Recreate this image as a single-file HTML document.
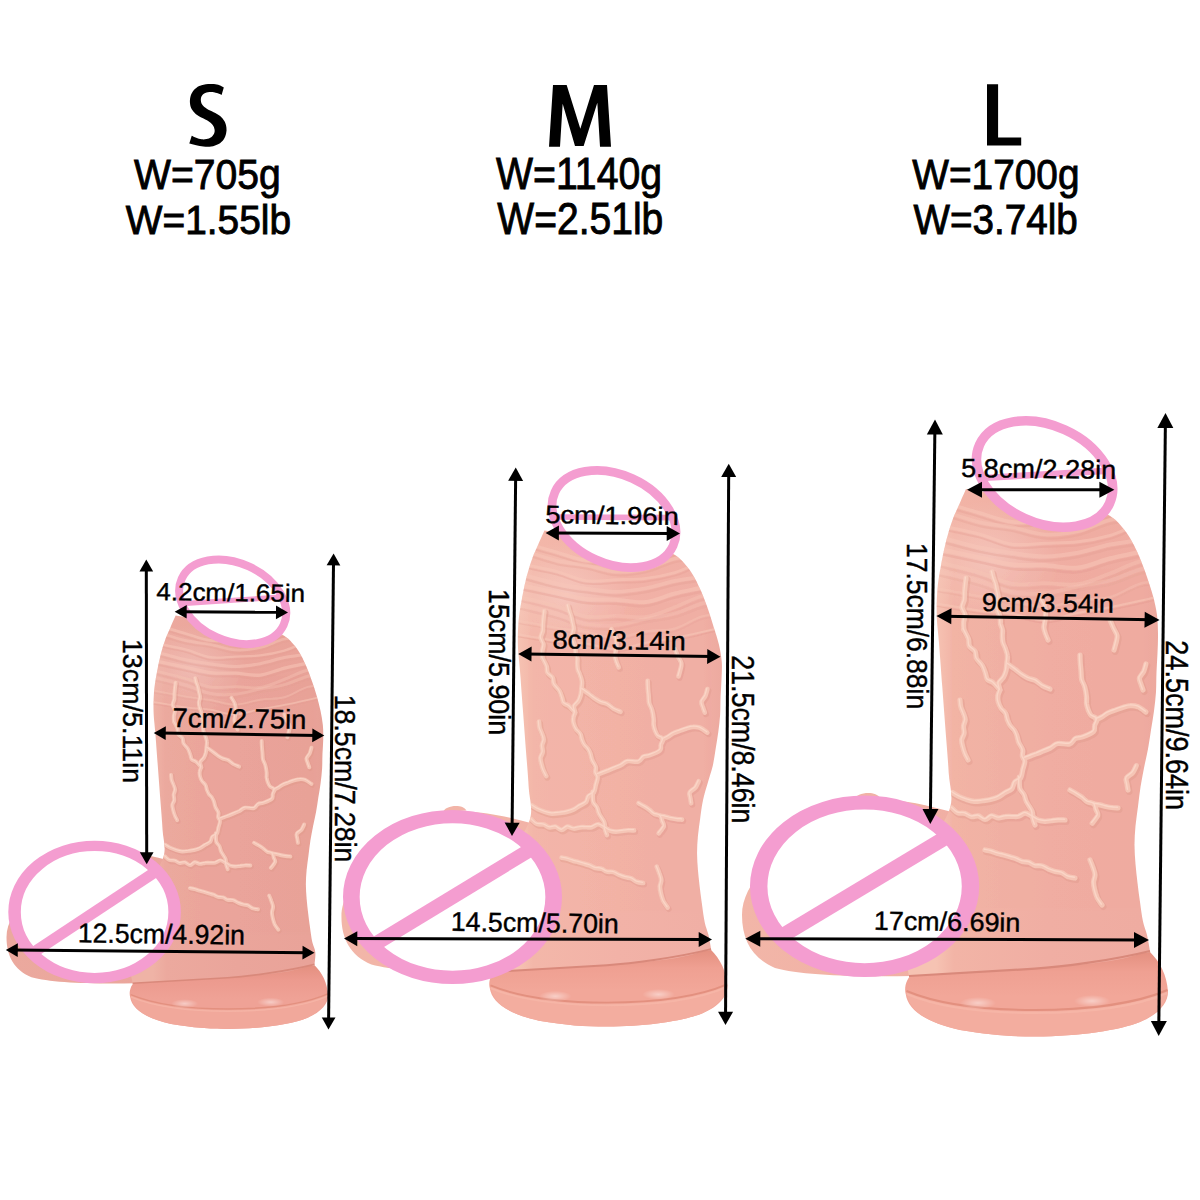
<!DOCTYPE html>
<html><head><meta charset="utf-8"><title>Size chart</title>
<style>
html,body{margin:0;padding:0;background:#fff;}
body{width:1200px;height:1200px;overflow:hidden;}
svg{display:block;}
text{font-family:"Liberation Sans", sans-serif;}
</style></head>
<body>
<svg width="1200" height="1200" viewBox="0 0 1200 1200">
<defs>
<linearGradient id="pSb" x1="936" y1="0" x2="1160" y2="0" gradientUnits="userSpaceOnUse">
  <stop offset="0" stop-color="#efb3a6"/>
  <stop offset="0.08" stop-color="#eca99e"/>
  <stop offset="0.5" stop-color="#eaa59b"/>
  <stop offset="0.92" stop-color="#e9a399"/>
  <stop offset="1" stop-color="#e7a197"/>
</linearGradient>
<radialGradient id="pSsp"><stop offset="0" stop-color="#fff" stop-opacity="0.45"/><stop offset="1" stop-color="#fff" stop-opacity="0"/></radialGradient>
<radialGradient id="pShl"><stop offset="0" stop-color="#fff" stop-opacity="0.22"/><stop offset="1" stop-color="#fff" stop-opacity="0"/></radialGradient>
<linearGradient id="pSk" x1="740" y1="0" x2="980" y2="0" gradientUnits="userSpaceOnUse">
  <stop offset="0" stop-color="#eba99e"/>
  <stop offset="1" stop-color="#eaa59b"/>
</linearGradient>
<linearGradient id="pSs" x1="0" y1="950" x2="0" y2="1012" gradientUnits="userSpaceOnUse">
  <stop offset="0" stop-color="#e38e7e"/>
  <stop offset="0.35" stop-color="#ec9a8e"/>
  <stop offset="0.75" stop-color="#efa296"/>
  <stop offset="1" stop-color="#efa296"/>
</linearGradient>
<linearGradient id="pMb" x1="936" y1="0" x2="1160" y2="0" gradientUnits="userSpaceOnUse">
  <stop offset="0" stop-color="#f6c3b3"/>
  <stop offset="0.08" stop-color="#f3b7a9"/>
  <stop offset="0.5" stop-color="#f2b2a7"/>
  <stop offset="0.92" stop-color="#f0afa5"/>
  <stop offset="1" stop-color="#edaaa0"/>
</linearGradient>
<radialGradient id="pMsp"><stop offset="0" stop-color="#fff" stop-opacity="0.45"/><stop offset="1" stop-color="#fff" stop-opacity="0"/></radialGradient>
<radialGradient id="pMhl"><stop offset="0" stop-color="#fff" stop-opacity="0.22"/><stop offset="1" stop-color="#fff" stop-opacity="0"/></radialGradient>
<linearGradient id="pMk" x1="740" y1="0" x2="980" y2="0" gradientUnits="userSpaceOnUse">
  <stop offset="0" stop-color="#f2b6a8"/>
  <stop offset="1" stop-color="#f2b2a7"/>
</linearGradient>
<linearGradient id="pMs" x1="0" y1="950" x2="0" y2="1012" gradientUnits="userSpaceOnUse">
  <stop offset="0" stop-color="#e38e7e"/>
  <stop offset="0.35" stop-color="#efa092"/>
  <stop offset="0.75" stop-color="#f2a799"/>
  <stop offset="1" stop-color="#f2a799"/>
</linearGradient>
<linearGradient id="pLb" x1="936" y1="0" x2="1160" y2="0" gradientUnits="userSpaceOnUse">
  <stop offset="0" stop-color="#f6c3b3"/>
  <stop offset="0.08" stop-color="#f2b4a6"/>
  <stop offset="0.5" stop-color="#f0aea3"/>
  <stop offset="0.92" stop-color="#efaca1"/>
  <stop offset="1" stop-color="#eca89d"/>
</linearGradient>
<radialGradient id="pLsp"><stop offset="0" stop-color="#fff" stop-opacity="0.45"/><stop offset="1" stop-color="#fff" stop-opacity="0"/></radialGradient>
<radialGradient id="pLhl"><stop offset="0" stop-color="#fff" stop-opacity="0.22"/><stop offset="1" stop-color="#fff" stop-opacity="0"/></radialGradient>
<linearGradient id="pLk" x1="740" y1="0" x2="980" y2="0" gradientUnits="userSpaceOnUse">
  <stop offset="0" stop-color="#f2b6a8"/>
  <stop offset="1" stop-color="#f0aea3"/>
</linearGradient>
<linearGradient id="pLs" x1="0" y1="950" x2="0" y2="1012" gradientUnits="userSpaceOnUse">
  <stop offset="0" stop-color="#e38e7e"/>
  <stop offset="0.35" stop-color="#efa092"/>
  <stop offset="0.75" stop-color="#f2a799"/>
  <stop offset="1" stop-color="#f2a799"/>
</linearGradient><g id="pS">
<path d="M914 972 C906 978 904 988 905.7 994 C908 1010 925 1022 960 1030 C990 1035 1010 1036.5 1035 1036.5 C1080 1036.5 1120 1030 1140 1022 C1160 1014 1168 1002 1168 992 C1167 975 1160 962 1150 952 Z" fill="url(#pSs)"/>
<path d="M906.5 991 C940 1005 990 1010 1035 1010 C1085 1010 1135 1004 1167.5 990 C1168 998 1162 1012 1140 1022 C1120 1030 1080 1036.5 1035 1036.5 C1010 1036.5 990 1035 960 1030 C925 1022 908 1010 906.5 991 Z" fill="#f1a89b"/>
<path d="M906.5 991 C940 1005 990 1010 1035 1010 C1085 1010 1135 1004 1167.5 990" fill="none" stroke="#e3907f" stroke-width="2"/>
<path d="M906.5 991 C940 1005 990 1010 1035 1010 C1085 1010 1135 1004 1167.5 990" fill="none" stroke="#f6b8a9" stroke-width="2" transform="translate(0,3)" opacity="0.7"/>
<ellipse cx="978" cy="1003" rx="18" ry="6" fill="url(#pSsp)"/>
<ellipse cx="1092" cy="1001" rx="18" ry="6" fill="url(#pSsp)"/>
<path d="M775 860 C755 875 742 895 742 915 C742 940 752 958 775 968 C800 975 850 977 912 976 L960 900 L952 812 C925 805 895 797 862 800 C830 805 795 830 775 860 Z M854 800 C856 792 876 790 880 798 Z" fill="url(#pSk)"/>
<path d="M966 489 L1100 510 C1102.2 511.3 1109.3 515.2 1113.0 518.0 C1116.7 520.8 1119.2 523.7 1122.0 527.0 C1124.8 530.3 1127.2 533.2 1130.0 538.0 C1132.8 542.8 1136.2 549.5 1139.0 556.0 C1141.8 562.5 1144.7 570.3 1147.0 577.0 C1149.3 583.7 1151.2 589.7 1153.0 596.0 C1154.8 602.3 1156.5 608.7 1157.9 615.0 C1159.2 621.3 1160.4 627.7 1161.0 634.0 C1161.6 640.3 1161.6 646.7 1161.5 653.0 C1161.4 659.3 1160.8 665.5 1160.5 672.0 C1160.2 678.5 1160.4 685.5 1160.0 692.0 C1159.6 698.5 1158.8 704.7 1158.0 711.0 C1157.2 717.3 1156.0 723.7 1155.0 730.0 C1154.0 736.3 1153.2 742.7 1152.0 749.0 C1150.8 755.3 1149.2 761.7 1148.0 768.0 C1146.8 774.3 1145.5 780.6 1144.5 787.0 C1143.5 793.4 1142.8 800.0 1142.0 806.5 C1141.2 813.0 1140.1 819.6 1139.5 826.0 C1138.9 832.4 1138.5 838.7 1138.5 845.0 C1138.5 851.3 1139.0 857.7 1139.5 864.0 C1140.0 870.3 1140.8 876.7 1141.5 883.0 C1142.2 889.3 1143.1 895.6 1144.0 902.0 C1144.9 908.4 1145.8 916.0 1147.0 921.5 C1148.2 927.0 1150.5 930.1 1151.0 935.0 C1151.5 939.9 1150.2 948.3 1150.0 951.0 C1143.3 952.7 1129.2 958.0 1110.0 961.0 C1090.8 964.0 1060.0 966.7 1035.0 968.7 C1010.0 970.7 981.0 971.8 960.0 973.0 C939.0 974.2 917.5 975.5 909.0 976.0 C908.3 970.8 904.5 956.8 905.0 945.0 C905.5 933.2 908.2 920.8 912.0 905.0 C915.8 889.2 921.7 866.2 928.0 850.0 C934.3 833.8 946.5 820.8 950.0 808.0 C953.5 795.2 949.5 786.0 948.7 773.0 C948.0 760.0 946.6 744.3 945.5 730.0 C944.4 715.7 943.4 701.5 942.3 687.0 C941.2 672.5 939.9 654.7 939.0 643.0 C938.1 631.3 937.1 625.7 936.8 617.0 C936.5 608.3 936.7 599.2 937.3 591.0 C937.9 582.8 939.1 575.8 940.6 567.5 C942.1 559.2 944.0 549.4 946.0 541.5 C948.0 533.6 950.3 526.1 952.5 520.0 C954.7 513.9 956.8 510.2 959.0 505.0 C961.2 499.8 964.8 491.7 966.0 489.0 Z" fill="url(#pSb)"/>
<path d="M909 976 C945 974 990 971.5 1035 968.7 C1060 967 1110 961 1150 951" fill="none" stroke="#d9897b" stroke-width="2.2"/>
<clipPath id="pSclip"><path d="M966 489 L1100 510 C1102.2 511.3 1109.3 515.2 1113.0 518.0 C1116.7 520.8 1119.2 523.7 1122.0 527.0 C1124.8 530.3 1127.2 533.2 1130.0 538.0 C1132.8 542.8 1136.2 549.5 1139.0 556.0 C1141.8 562.5 1144.7 570.3 1147.0 577.0 C1149.3 583.7 1151.2 589.7 1153.0 596.0 C1154.8 602.3 1156.5 608.7 1157.9 615.0 C1159.2 621.3 1160.4 627.7 1161.0 634.0 C1161.6 640.3 1161.6 646.7 1161.5 653.0 C1161.4 659.3 1160.8 665.5 1160.5 672.0 C1160.2 678.5 1160.4 685.5 1160.0 692.0 C1159.6 698.5 1158.8 704.7 1158.0 711.0 C1157.2 717.3 1156.0 723.7 1155.0 730.0 C1154.0 736.3 1153.2 742.7 1152.0 749.0 C1150.8 755.3 1149.2 761.7 1148.0 768.0 C1146.8 774.3 1145.5 780.6 1144.5 787.0 C1143.5 793.4 1142.8 800.0 1142.0 806.5 C1141.2 813.0 1140.1 819.6 1139.5 826.0 C1138.9 832.4 1138.5 838.7 1138.5 845.0 C1138.5 851.3 1139.0 857.7 1139.5 864.0 C1140.0 870.3 1140.8 876.7 1141.5 883.0 C1142.2 889.3 1143.1 895.6 1144.0 902.0 C1144.9 908.4 1145.8 916.0 1147.0 921.5 C1148.2 927.0 1150.5 930.1 1151.0 935.0 C1151.5 939.9 1150.2 948.3 1150.0 951.0 C1143.3 952.7 1129.2 958.0 1110.0 961.0 C1090.8 964.0 1060.0 966.7 1035.0 968.7 C1010.0 970.7 981.0 971.8 960.0 973.0 C939.0 974.2 917.5 975.5 909.0 976.0 C908.3 970.8 904.5 956.8 905.0 945.0 C905.5 933.2 908.2 920.8 912.0 905.0 C915.8 889.2 921.7 866.2 928.0 850.0 C934.3 833.8 946.5 820.8 950.0 808.0 C953.5 795.2 949.5 786.0 948.7 773.0 C948.0 760.0 946.6 744.3 945.5 730.0 C944.4 715.7 943.4 701.5 942.3 687.0 C941.2 672.5 939.9 654.7 939.0 643.0 C938.1 631.3 937.1 625.7 936.8 617.0 C936.5 608.3 936.7 599.2 937.3 591.0 C937.9 582.8 939.1 575.8 940.6 567.5 C942.1 559.2 944.0 549.4 946.0 541.5 C948.0 533.6 950.3 526.1 952.5 520.0 C954.7 513.9 956.8 510.2 959.0 505.0 C961.2 499.8 964.8 491.7 966.0 489.0 Z"/></clipPath><g clip-path="url(#pSclip)">
<ellipse cx="990" cy="560" rx="70" ry="60" fill="url(#pShl)"/>
<g fill="none" stroke="#e49e92"><path d="M948.0 503.7 C953.3 505.2 969.3 510.0 980.0 513.0 C990.7 516.1 1001.2 520.6 1012.0 521.9 C1022.8 523.3 1034.0 521.6 1045.0 521.1 C1056.0 520.6 1067.2 520.4 1078.0 519.0 C1088.8 517.6 1099.7 515.9 1110.0 512.8 C1120.3 509.7 1130.8 502.7 1140.0 500.2 C1149.2 497.8 1160.8 498.4 1165.0 498.1" transform="translate(0,3.9)" stroke-width="2.1" opacity="0.38"/><path d="M946.5 512.2 C952.1 513.8 969.1 519.8 980.0 522.2 C990.9 524.7 1001.2 525.1 1012.0 527.1 C1022.8 529.2 1034.0 533.8 1045.0 534.5 C1056.0 535.2 1067.2 533.7 1078.0 531.3 C1088.8 528.9 1099.7 522.4 1110.0 520.0 C1120.3 517.6 1130.8 518.1 1140.0 516.8 C1149.2 515.5 1160.8 513.0 1165.0 512.3" transform="translate(0,3.9)" stroke-width="2.2" opacity="0.34"/><path d="M945.0 526.6 C950.8 527.9 968.8 531.3 980.0 534.2 C991.2 537.2 1001.2 542.7 1012.0 544.2 C1022.8 545.7 1034.0 543.7 1045.0 543.3 C1056.0 542.9 1067.2 543.1 1078.0 541.8 C1088.8 540.5 1099.7 538.3 1110.0 535.4 C1120.3 532.4 1130.8 526.2 1140.0 524.1 C1149.2 522.0 1160.8 523.0 1165.0 522.7" transform="translate(0,3.5)" stroke-width="1.9" opacity="0.39"/><path d="M943.5 538.1 C949.6 539.7 968.6 545.1 980.0 547.6 C991.4 550.1 1001.2 551.5 1012.0 553.0 C1022.8 554.5 1034.0 556.5 1045.0 556.5 C1056.0 556.4 1067.2 554.6 1078.0 552.7 C1088.8 550.7 1099.7 546.8 1110.0 544.6 C1120.3 542.5 1130.8 541.4 1140.0 539.9 C1149.2 538.4 1160.8 536.2 1165.0 535.5" transform="translate(0,4.3)" stroke-width="2.5" opacity="0.36"/><path d="M942.0 549.7 C948.3 551.0 968.3 555.3 980.0 557.7 C991.7 560.2 1001.2 563.2 1012.0 564.5 C1022.8 565.8 1034.0 564.8 1045.0 565.3 C1056.0 565.9 1067.2 569.0 1078.0 567.8 C1088.8 566.7 1099.7 561.1 1110.0 558.5 C1120.3 555.8 1130.8 554.2 1140.0 551.9 C1149.2 549.5 1160.8 545.5 1165.0 544.2" transform="translate(0,4.5)" stroke-width="2.6" opacity="0.39"/><path d="M940.5 562.5 C947.1 564.2 968.1 569.0 980.0 572.6 C991.9 576.1 1001.2 582.1 1012.0 583.8 C1022.8 585.6 1034.0 583.1 1045.0 583.1 C1056.0 583.2 1067.2 585.9 1078.0 584.3 C1088.8 582.7 1099.7 577.3 1110.0 573.5 C1120.3 569.7 1130.8 563.5 1140.0 561.4 C1149.2 559.3 1160.8 561.0 1165.0 560.9" transform="translate(0,4.2)" stroke-width="2.4" opacity="0.27"/><path d="M939.0 571.1 C945.8 572.8 967.8 577.9 980.0 581.4 C992.2 585.0 1001.2 590.3 1012.0 592.2 C1022.8 594.2 1034.0 594.1 1045.0 593.2 C1056.0 592.2 1067.2 588.4 1078.0 586.3 C1088.8 584.2 1099.7 583.2 1110.0 580.4 C1120.3 577.6 1130.8 572.2 1140.0 569.6 C1149.2 567.1 1160.8 565.7 1165.0 564.9" transform="translate(0,4.2)" stroke-width="2.4" opacity="0.25"/><path d="M937.5 588.4 C944.6 589.7 967.6 594.2 980.0 596.3 C992.4 598.3 1001.2 599.0 1012.0 600.8 C1022.8 602.6 1034.0 607.0 1045.0 607.0 C1056.0 606.9 1067.2 602.0 1078.0 600.4 C1088.8 598.7 1099.7 600.0 1110.0 597.2 C1120.3 594.4 1130.8 586.4 1140.0 583.7 C1149.2 581.1 1160.8 581.8 1165.0 581.4" transform="translate(0,3.0)" stroke-width="1.5" opacity="0.27"/><path d="M936.0 603.3 C943.3 604.5 967.3 609.0 980.0 610.7 C992.7 612.5 1001.2 612.1 1012.0 613.6 C1022.8 615.2 1034.0 620.2 1045.0 620.0 C1056.0 619.9 1067.2 615.0 1078.0 612.9 C1088.8 610.8 1099.7 609.4 1110.0 607.4 C1120.3 605.4 1130.8 603.0 1140.0 600.9 C1149.2 598.8 1160.8 596.0 1165.0 595.0" transform="translate(0,2.8)" stroke-width="1.4" opacity="0.42"/></g>
<g fill="none" stroke="#f7c7b8"><path d="M948.0 503.7 C953.3 505.2 969.3 510.0 980.0 513.0 C990.7 516.1 1001.2 520.6 1012.0 521.9 C1022.8 523.3 1034.0 521.6 1045.0 521.1 C1056.0 520.6 1067.2 520.4 1078.0 519.0 C1088.8 517.6 1099.7 515.9 1110.0 512.8 C1120.3 509.7 1130.8 502.7 1140.0 500.2 C1149.2 497.8 1160.8 498.4 1165.0 498.1" stroke-width="3.6" opacity="0.54"/><path d="M946.5 512.2 C952.1 513.8 969.1 519.8 980.0 522.2 C990.9 524.7 1001.2 525.1 1012.0 527.1 C1022.8 529.2 1034.0 533.8 1045.0 534.5 C1056.0 535.2 1067.2 533.7 1078.0 531.3 C1088.8 528.9 1099.7 522.4 1110.0 520.0 C1120.3 517.6 1130.8 518.1 1140.0 516.8 C1149.2 515.5 1160.8 513.0 1165.0 512.3" stroke-width="3.6" opacity="0.48"/><path d="M945.0 526.6 C950.8 527.9 968.8 531.3 980.0 534.2 C991.2 537.2 1001.2 542.7 1012.0 544.2 C1022.8 545.7 1034.0 543.7 1045.0 543.3 C1056.0 542.9 1067.2 543.1 1078.0 541.8 C1088.8 540.5 1099.7 538.3 1110.0 535.4 C1120.3 532.4 1130.8 526.2 1140.0 524.1 C1149.2 522.0 1160.8 523.0 1165.0 522.7" stroke-width="3.1" opacity="0.55"/><path d="M943.5 538.1 C949.6 539.7 968.6 545.1 980.0 547.6 C991.4 550.1 1001.2 551.5 1012.0 553.0 C1022.8 554.5 1034.0 556.5 1045.0 556.5 C1056.0 556.4 1067.2 554.6 1078.0 552.7 C1088.8 550.7 1099.7 546.8 1110.0 544.6 C1120.3 542.5 1130.8 541.4 1140.0 539.9 C1149.2 538.4 1160.8 536.2 1165.0 535.5" stroke-width="4.1" opacity="0.51"/><path d="M942.0 549.7 C948.3 551.0 968.3 555.3 980.0 557.7 C991.7 560.2 1001.2 563.2 1012.0 564.5 C1022.8 565.8 1034.0 564.8 1045.0 565.3 C1056.0 565.9 1067.2 569.0 1078.0 567.8 C1088.8 566.7 1099.7 561.1 1110.0 558.5 C1120.3 555.8 1130.8 554.2 1140.0 551.9 C1149.2 549.5 1160.8 545.5 1165.0 544.2" stroke-width="4.4" opacity="0.55"/><path d="M940.5 562.5 C947.1 564.2 968.1 569.0 980.0 572.6 C991.9 576.1 1001.2 582.1 1012.0 583.8 C1022.8 585.6 1034.0 583.1 1045.0 583.1 C1056.0 583.2 1067.2 585.9 1078.0 584.3 C1088.8 582.7 1099.7 577.3 1110.0 573.5 C1120.3 569.7 1130.8 563.5 1140.0 561.4 C1149.2 559.3 1160.8 561.0 1165.0 560.9" stroke-width="3.9" opacity="0.38"/><path d="M939.0 571.1 C945.8 572.8 967.8 577.9 980.0 581.4 C992.2 585.0 1001.2 590.3 1012.0 592.2 C1022.8 594.2 1034.0 594.1 1045.0 593.2 C1056.0 592.2 1067.2 588.4 1078.0 586.3 C1088.8 584.2 1099.7 583.2 1110.0 580.4 C1120.3 577.6 1130.8 572.2 1140.0 569.6 C1149.2 567.1 1160.8 565.7 1165.0 564.9" stroke-width="4.0" opacity="0.35"/><path d="M937.5 588.4 C944.6 589.7 967.6 594.2 980.0 596.3 C992.4 598.3 1001.2 599.0 1012.0 600.8 C1022.8 602.6 1034.0 607.0 1045.0 607.0 C1056.0 606.9 1067.2 602.0 1078.0 600.4 C1088.8 598.7 1099.7 600.0 1110.0 597.2 C1120.3 594.4 1130.8 586.4 1140.0 583.7 C1149.2 581.1 1160.8 581.8 1165.0 581.4" stroke-width="2.5" opacity="0.38"/><path d="M936.0 603.3 C943.3 604.5 967.3 609.0 980.0 610.7 C992.7 612.5 1001.2 612.1 1012.0 613.6 C1022.8 615.2 1034.0 620.2 1045.0 620.0 C1056.0 619.9 1067.2 615.0 1078.0 612.9 C1088.8 610.8 1099.7 609.4 1110.0 607.4 C1120.3 605.4 1130.8 603.0 1140.0 600.9 C1149.2 598.8 1160.8 596.0 1165.0 595.0" stroke-width="2.3" opacity="0.60"/></g>
<g fill="none" stroke="#dd9587" stroke-width="6.5" stroke-linecap="round" stroke-linejoin="round" opacity="0.35"><path d="M998.0 612.0 C998.4 613.0 999.7 615.8 1000.2 617.8 C1000.6 619.8 1000.2 622.0 1000.5 624.0 C1000.9 626.1 1002.1 627.9 1002.4 630.0 C1002.7 632.0 1002.2 634.2 1002.3 636.3 C1002.4 638.4 1002.4 640.5 1002.9 642.6 C1003.4 644.6 1004.6 646.2 1005.3 648.5 C1006.1 650.7 1007.2 653.5 1007.4 656.0 C1007.7 658.5 1007.0 661.2 1006.8 663.6 C1006.6 666.1 1006.5 668.5 1006.0 670.7 C1005.4 673.0 1004.8 675.1 1003.5 677.2 C1002.3 679.2 999.3 681.1 998.6 683.1 C998.0 685.2 999.8 687.5 999.7 689.7 C999.5 691.8 998.1 693.8 997.9 695.9 C997.6 698.0 997.8 700.3 998.4 702.4 C998.9 704.4 999.9 706.5 1001.1 708.4 C1002.3 710.2 1004.6 711.5 1005.6 713.4 C1006.7 715.3 1006.7 717.9 1007.4 719.9 C1008.2 721.9 1008.9 723.8 1010.0 725.4 C1011.1 727.1 1013.0 728.3 1014.1 729.9 C1015.2 731.6 1015.9 733.0 1016.7 735.2 C1017.4 737.3 1017.8 740.3 1018.8 742.8 C1019.8 745.2 1022.0 747.6 1022.6 749.9 C1023.2 752.1 1022.0 754.3 1022.4 756.3 C1022.7 758.3 1024.7 759.5 1024.7 761.7 C1024.8 763.9 1023.4 767.0 1022.7 769.7 C1022.1 772.4 1021.9 775.9 1020.6 778.0 C1019.2 780.1 1016.0 780.5 1014.5 782.3 C1013.1 784.1 1013.4 787.0 1011.8 788.8 C1010.1 790.5 1006.9 791.5 1004.6 792.9 C1002.3 794.3 1000.4 796.0 998.0 797.1 C995.7 798.2 993.0 798.9 990.5 799.5 C988.0 800.1 985.8 800.3 983.1 800.7 C980.4 801.0 977.1 801.7 974.3 801.4 C971.5 801.2 968.7 800.2 966.2 799.4 C963.6 798.5 961.2 797.6 958.9 796.5 C956.6 795.4 953.4 793.2 952.3 792.5" transform="translate(1.3,1.8)"/><path d="M1007.8 664.0 C1009.0 664.9 1012.8 667.4 1015.1 669.2 C1017.4 670.9 1019.6 672.9 1021.8 674.4 C1024.0 675.9 1025.9 677.1 1028.1 678.1 C1030.4 679.1 1032.9 679.2 1035.4 680.4 C1037.8 681.7 1040.2 684.2 1042.6 685.7 C1045.1 687.1 1048.8 688.4 1050.0 689.0" transform="translate(1.3,1.8)"/><path d="M1025.0 758.0 C1026.0 757.6 1029.0 756.5 1030.9 755.8 C1032.9 755.1 1034.9 754.3 1036.8 753.6 C1038.8 752.8 1040.4 752.1 1042.7 751.1 C1045.0 750.2 1048.1 749.0 1050.6 747.8 C1053.1 746.5 1054.5 744.1 1057.7 743.5 C1060.9 742.8 1066.8 744.8 1069.7 743.9 C1072.7 743.1 1073.2 739.6 1075.3 738.5 C1077.4 737.3 1079.5 738.0 1082.5 736.9 C1085.6 735.8 1091.5 733.5 1093.5 731.6 C1095.5 729.8 1094.0 727.7 1094.6 725.6 C1095.1 723.5 1097.6 720.6 1097.0 718.9 C1096.4 717.2 1092.6 717.1 1091.2 715.6 C1089.7 714.1 1089.0 712.0 1088.2 710.0 C1087.4 708.0 1086.8 705.7 1086.5 703.5 C1086.3 701.2 1086.8 699.4 1086.5 696.7 C1086.2 693.9 1085.5 689.8 1084.7 687.0 C1083.9 684.1 1082.3 682.2 1081.7 679.8 C1081.1 677.3 1081.3 674.8 1081.1 672.1 C1080.9 669.4 1080.5 666.4 1080.3 663.6 C1080.1 660.7 1080.0 656.4 1080.0 655.0" transform="translate(1.3,1.8)"/><path d="M1096.0 719.7 C1097.0 719.2 1100.3 717.7 1102.3 716.6 C1104.2 715.5 1105.6 714.1 1107.7 713.0 C1109.9 711.9 1112.6 711.0 1115.1 710.1 C1117.6 709.1 1120.2 708.2 1122.7 707.4 C1125.2 706.7 1127.8 705.8 1130.3 705.7 C1132.8 705.5 1135.3 705.7 1137.9 706.7 C1140.5 707.8 1144.6 711.1 1145.9 712.0" transform="translate(1.3,1.8)"/><path d="M1019.3 777.2 C1019.4 779.1 1019.0 785.5 1019.8 788.4 C1020.6 791.3 1023.0 792.5 1024.1 794.8 C1025.2 797.1 1025.2 799.4 1026.6 802.2 C1027.9 804.9 1031.1 808.6 1032.1 811.3 C1033.1 814.0 1032.3 816.1 1032.8 818.4 C1033.3 820.7 1034.6 823.9 1035.0 825.0" transform="translate(1.3,1.8)"/><path d="M963.8 629.6 C964.5 631.1 967.4 636.0 968.4 638.8 C969.3 641.6 968.4 644.1 969.5 646.2 C970.6 648.3 973.9 649.3 975.1 651.4 C976.3 653.5 975.4 656.3 976.6 658.6 C977.8 660.9 980.7 663.0 982.2 665.4 C983.7 667.8 984.6 670.8 985.4 673.2 C986.3 675.5 986.1 677.9 987.4 679.5 C988.7 681.1 991.0 680.9 993.1 682.6 C995.2 684.4 998.9 688.8 1000.0 690.0" transform="translate(1.3,1.8)"/><path d="M966.0 578.0 C965.9 579.2 965.4 582.9 965.1 585.3 C964.9 587.8 964.6 590.3 964.4 592.7 C964.2 595.2 964.6 597.5 964.2 600.0 C963.8 602.4 961.9 605.0 962.0 607.4 C962.1 609.9 964.7 612.3 965.0 614.8 C965.2 617.2 963.8 619.7 963.6 622.2 C963.4 624.7 963.7 628.4 963.8 629.6" transform="translate(1.3,1.8)"/><path d="M992.0 572.0 C992.2 573.0 992.9 576.1 993.4 578.1 C994.0 580.1 995.0 581.9 995.6 583.9 C996.1 585.9 996.3 587.8 996.8 590.0 C997.2 592.2 998.3 594.8 998.3 597.3 C998.3 599.7 996.7 602.3 996.7 604.7 C996.6 607.2 997.8 610.8 998.0 612.0" transform="translate(1.3,1.8)"/><path d="M1070.0 790.0 C1071.0 790.6 1074.1 792.2 1076.1 793.4 C1078.1 794.6 1080.0 795.8 1081.9 797.2 C1083.8 798.5 1085.3 800.5 1087.3 801.7 C1089.3 802.8 1092.7 802.6 1094.1 804.0 C1095.5 805.3 1095.4 807.9 1096.0 809.8 C1096.6 811.7 1098.4 813.1 1097.8 815.3 C1097.1 817.6 1093.1 821.9 1092.2 823.2" transform="translate(1.3,1.8)"/><path d="M1094.0 804.0 C1095.0 804.2 1098.0 804.5 1100.0 804.9 C1102.0 805.3 1103.9 806.1 1105.9 806.5 C1107.9 806.9 1109.9 807.3 1111.9 807.5 C1113.9 807.8 1117.0 807.9 1118.0 808.0" transform="translate(1.3,1.8)"/><path d="M1145.9 664.0 C1145.5 665.2 1144.7 668.9 1143.7 671.3 C1142.6 673.7 1139.9 676.0 1139.4 678.1 C1139.0 680.3 1140.3 682.2 1140.9 684.1 C1141.5 686.1 1142.7 689.0 1143.0 690.0" transform="translate(1.3,1.8)"/><path d="M1136.3 765.7 C1135.7 766.9 1134.3 770.5 1132.7 772.6 C1131.0 774.7 1127.3 776.1 1126.4 778.1 C1125.4 780.0 1126.7 782.0 1127.0 784.0 C1127.3 786.0 1127.8 789.0 1128.0 790.0" transform="translate(1.3,1.8)"/><path d="M952.0 808.0 C953.0 808.8 955.6 811.9 957.8 812.8 C960.0 813.7 962.9 812.8 965.2 813.5 C967.5 814.1 969.3 816.3 971.6 816.7 C973.8 817.2 976.2 815.5 978.5 815.9 C980.8 816.4 983.0 819.6 985.2 819.5 C987.3 819.5 989.3 816.1 991.5 815.8 C993.7 815.5 996.2 817.7 998.5 817.9 C1000.7 818.0 1002.8 816.8 1005.1 816.6 C1007.3 816.3 1009.5 816.5 1011.8 816.5 C1014.0 816.4 1016.2 816.8 1018.5 816.3 C1020.7 815.7 1023.1 813.2 1025.3 813.2 C1027.5 813.2 1029.7 815.1 1031.9 816.2 C1034.0 817.3 1035.9 819.1 1038.1 820.0 C1040.3 820.8 1042.7 821.2 1044.9 821.3 C1047.2 821.4 1049.4 820.8 1051.6 820.6 C1053.8 820.3 1056.0 819.9 1058.2 819.8 C1060.5 819.7 1063.9 820.0 1065.0 820.0" transform="translate(1.3,1.8)"/><path d="M985.0 850.0 C986.1 850.2 989.3 850.7 991.4 851.3 C993.5 851.9 995.4 852.8 997.5 853.4 C999.6 854.1 1001.7 854.4 1003.8 855.0 C1005.9 855.6 1008.0 856.2 1010.1 856.8 C1012.1 857.5 1014.3 858.0 1016.3 858.7 C1018.4 859.5 1020.2 860.9 1022.3 861.5 C1024.5 862.1 1026.9 861.6 1029.0 862.3 C1031.1 862.9 1032.7 864.8 1034.9 865.4 C1037.1 866.0 1039.9 865.2 1042.2 865.9 C1044.5 866.5 1046.4 868.1 1048.5 869.1 C1050.7 870.0 1052.9 870.9 1055.2 871.5 C1057.4 872.1 1059.8 872.0 1062.0 872.9 C1064.2 873.8 1065.9 875.9 1068.1 876.7 C1070.3 877.6 1073.9 877.8 1075.0 878.0" transform="translate(1.3,1.8)"/><path d="M1090.0 860.0 C1090.5 861.3 1092.1 865.0 1092.9 867.5 C1093.8 870.0 1094.9 872.4 1095.0 874.9 C1095.1 877.3 1093.6 879.8 1093.5 882.3 C1093.5 884.8 1094.0 887.1 1094.6 889.7 C1095.2 892.3 1096.0 895.3 1097.2 897.9 C1098.5 900.5 1101.2 903.8 1102.0 905.0" transform="translate(1.3,1.8)"/><path d="M1040.0 598.0 C1040.7 599.1 1043.0 602.3 1043.9 604.6 C1044.9 606.9 1045.3 609.3 1045.5 611.9 C1045.7 614.5 1045.3 617.5 1045.0 620.1 C1044.8 622.7 1043.8 625.3 1043.9 627.6 C1044.0 629.9 1044.8 631.9 1045.5 634.0 C1046.2 636.0 1047.6 639.0 1048.0 640.0" transform="translate(1.3,1.8)"/><path d="M1110.0 620.0 C1110.6 621.4 1112.3 625.6 1113.5 628.3 C1114.7 630.9 1116.7 633.3 1117.1 635.7 C1117.5 638.2 1116.5 640.6 1115.9 643.0 C1115.4 645.4 1114.3 648.8 1114.0 650.0" transform="translate(1.3,1.8)"/><path d="M960.0 700.0 C960.1 701.2 960.2 704.8 960.8 707.0 C961.3 709.3 962.7 711.4 963.4 713.5 C964.2 715.6 965.2 717.7 965.2 719.8 C965.2 722.0 963.6 724.1 963.4 726.4 C963.2 728.7 964.4 731.2 964.1 733.5 C963.8 735.8 961.8 737.9 961.6 740.1 C961.4 742.4 962.2 744.8 962.8 747.0 C963.3 749.3 964.0 751.5 964.9 753.7 C965.7 755.8 967.5 758.9 968.0 760.0" transform="translate(1.3,1.8)"/></g>
<g fill="none" stroke="#f8cdbd" stroke-width="5.2" stroke-linecap="round" stroke-linejoin="round" opacity="0.8"><path d="M998.0 612.0 C998.4 613.0 999.7 615.8 1000.2 617.8 C1000.6 619.8 1000.2 622.0 1000.5 624.0 C1000.9 626.1 1002.1 627.9 1002.4 630.0 C1002.7 632.0 1002.2 634.2 1002.3 636.3 C1002.4 638.4 1002.4 640.5 1002.9 642.6 C1003.4 644.6 1004.6 646.2 1005.3 648.5 C1006.1 650.7 1007.2 653.5 1007.4 656.0 C1007.7 658.5 1007.0 661.2 1006.8 663.6 C1006.6 666.1 1006.5 668.5 1006.0 670.7 C1005.4 673.0 1004.8 675.1 1003.5 677.2 C1002.3 679.2 999.3 681.1 998.6 683.1 C998.0 685.2 999.8 687.5 999.7 689.7 C999.5 691.8 998.1 693.8 997.9 695.9 C997.6 698.0 997.8 700.3 998.4 702.4 C998.9 704.4 999.9 706.5 1001.1 708.4 C1002.3 710.2 1004.6 711.5 1005.6 713.4 C1006.7 715.3 1006.7 717.9 1007.4 719.9 C1008.2 721.9 1008.9 723.8 1010.0 725.4 C1011.1 727.1 1013.0 728.3 1014.1 729.9 C1015.2 731.6 1015.9 733.0 1016.7 735.2 C1017.4 737.3 1017.8 740.3 1018.8 742.8 C1019.8 745.2 1022.0 747.6 1022.6 749.9 C1023.2 752.1 1022.0 754.3 1022.4 756.3 C1022.7 758.3 1024.7 759.5 1024.7 761.7 C1024.8 763.9 1023.4 767.0 1022.7 769.7 C1022.1 772.4 1021.9 775.9 1020.6 778.0 C1019.2 780.1 1016.0 780.5 1014.5 782.3 C1013.1 784.1 1013.4 787.0 1011.8 788.8 C1010.1 790.5 1006.9 791.5 1004.6 792.9 C1002.3 794.3 1000.4 796.0 998.0 797.1 C995.7 798.2 993.0 798.9 990.5 799.5 C988.0 800.1 985.8 800.3 983.1 800.7 C980.4 801.0 977.1 801.7 974.3 801.4 C971.5 801.2 968.7 800.2 966.2 799.4 C963.6 798.5 961.2 797.6 958.9 796.5 C956.6 795.4 953.4 793.2 952.3 792.5"/><path d="M1007.8 664.0 C1009.0 664.9 1012.8 667.4 1015.1 669.2 C1017.4 670.9 1019.6 672.9 1021.8 674.4 C1024.0 675.9 1025.9 677.1 1028.1 678.1 C1030.4 679.1 1032.9 679.2 1035.4 680.4 C1037.8 681.7 1040.2 684.2 1042.6 685.7 C1045.1 687.1 1048.8 688.4 1050.0 689.0"/><path d="M1025.0 758.0 C1026.0 757.6 1029.0 756.5 1030.9 755.8 C1032.9 755.1 1034.9 754.3 1036.8 753.6 C1038.8 752.8 1040.4 752.1 1042.7 751.1 C1045.0 750.2 1048.1 749.0 1050.6 747.8 C1053.1 746.5 1054.5 744.1 1057.7 743.5 C1060.9 742.8 1066.8 744.8 1069.7 743.9 C1072.7 743.1 1073.2 739.6 1075.3 738.5 C1077.4 737.3 1079.5 738.0 1082.5 736.9 C1085.6 735.8 1091.5 733.5 1093.5 731.6 C1095.5 729.8 1094.0 727.7 1094.6 725.6 C1095.1 723.5 1097.6 720.6 1097.0 718.9 C1096.4 717.2 1092.6 717.1 1091.2 715.6 C1089.7 714.1 1089.0 712.0 1088.2 710.0 C1087.4 708.0 1086.8 705.7 1086.5 703.5 C1086.3 701.2 1086.8 699.4 1086.5 696.7 C1086.2 693.9 1085.5 689.8 1084.7 687.0 C1083.9 684.1 1082.3 682.2 1081.7 679.8 C1081.1 677.3 1081.3 674.8 1081.1 672.1 C1080.9 669.4 1080.5 666.4 1080.3 663.6 C1080.1 660.7 1080.0 656.4 1080.0 655.0"/><path d="M1096.0 719.7 C1097.0 719.2 1100.3 717.7 1102.3 716.6 C1104.2 715.5 1105.6 714.1 1107.7 713.0 C1109.9 711.9 1112.6 711.0 1115.1 710.1 C1117.6 709.1 1120.2 708.2 1122.7 707.4 C1125.2 706.7 1127.8 705.8 1130.3 705.7 C1132.8 705.5 1135.3 705.7 1137.9 706.7 C1140.5 707.8 1144.6 711.1 1145.9 712.0"/><path d="M1019.3 777.2 C1019.4 779.1 1019.0 785.5 1019.8 788.4 C1020.6 791.3 1023.0 792.5 1024.1 794.8 C1025.2 797.1 1025.2 799.4 1026.6 802.2 C1027.9 804.9 1031.1 808.6 1032.1 811.3 C1033.1 814.0 1032.3 816.1 1032.8 818.4 C1033.3 820.7 1034.6 823.9 1035.0 825.0"/><path d="M963.8 629.6 C964.5 631.1 967.4 636.0 968.4 638.8 C969.3 641.6 968.4 644.1 969.5 646.2 C970.6 648.3 973.9 649.3 975.1 651.4 C976.3 653.5 975.4 656.3 976.6 658.6 C977.8 660.9 980.7 663.0 982.2 665.4 C983.7 667.8 984.6 670.8 985.4 673.2 C986.3 675.5 986.1 677.9 987.4 679.5 C988.7 681.1 991.0 680.9 993.1 682.6 C995.2 684.4 998.9 688.8 1000.0 690.0"/><path d="M966.0 578.0 C965.9 579.2 965.4 582.9 965.1 585.3 C964.9 587.8 964.6 590.3 964.4 592.7 C964.2 595.2 964.6 597.5 964.2 600.0 C963.8 602.4 961.9 605.0 962.0 607.4 C962.1 609.9 964.7 612.3 965.0 614.8 C965.2 617.2 963.8 619.7 963.6 622.2 C963.4 624.7 963.7 628.4 963.8 629.6"/><path d="M992.0 572.0 C992.2 573.0 992.9 576.1 993.4 578.1 C994.0 580.1 995.0 581.9 995.6 583.9 C996.1 585.9 996.3 587.8 996.8 590.0 C997.2 592.2 998.3 594.8 998.3 597.3 C998.3 599.7 996.7 602.3 996.7 604.7 C996.6 607.2 997.8 610.8 998.0 612.0"/><path d="M1070.0 790.0 C1071.0 790.6 1074.1 792.2 1076.1 793.4 C1078.1 794.6 1080.0 795.8 1081.9 797.2 C1083.8 798.5 1085.3 800.5 1087.3 801.7 C1089.3 802.8 1092.7 802.6 1094.1 804.0 C1095.5 805.3 1095.4 807.9 1096.0 809.8 C1096.6 811.7 1098.4 813.1 1097.8 815.3 C1097.1 817.6 1093.1 821.9 1092.2 823.2"/><path d="M1094.0 804.0 C1095.0 804.2 1098.0 804.5 1100.0 804.9 C1102.0 805.3 1103.9 806.1 1105.9 806.5 C1107.9 806.9 1109.9 807.3 1111.9 807.5 C1113.9 807.8 1117.0 807.9 1118.0 808.0"/><path d="M1145.9 664.0 C1145.5 665.2 1144.7 668.9 1143.7 671.3 C1142.6 673.7 1139.9 676.0 1139.4 678.1 C1139.0 680.3 1140.3 682.2 1140.9 684.1 C1141.5 686.1 1142.7 689.0 1143.0 690.0"/><path d="M1136.3 765.7 C1135.7 766.9 1134.3 770.5 1132.7 772.6 C1131.0 774.7 1127.3 776.1 1126.4 778.1 C1125.4 780.0 1126.7 782.0 1127.0 784.0 C1127.3 786.0 1127.8 789.0 1128.0 790.0"/><path d="M952.0 808.0 C953.0 808.8 955.6 811.9 957.8 812.8 C960.0 813.7 962.9 812.8 965.2 813.5 C967.5 814.1 969.3 816.3 971.6 816.7 C973.8 817.2 976.2 815.5 978.5 815.9 C980.8 816.4 983.0 819.6 985.2 819.5 C987.3 819.5 989.3 816.1 991.5 815.8 C993.7 815.5 996.2 817.7 998.5 817.9 C1000.7 818.0 1002.8 816.8 1005.1 816.6 C1007.3 816.3 1009.5 816.5 1011.8 816.5 C1014.0 816.4 1016.2 816.8 1018.5 816.3 C1020.7 815.7 1023.1 813.2 1025.3 813.2 C1027.5 813.2 1029.7 815.1 1031.9 816.2 C1034.0 817.3 1035.9 819.1 1038.1 820.0 C1040.3 820.8 1042.7 821.2 1044.9 821.3 C1047.2 821.4 1049.4 820.8 1051.6 820.6 C1053.8 820.3 1056.0 819.9 1058.2 819.8 C1060.5 819.7 1063.9 820.0 1065.0 820.0"/><path d="M985.0 850.0 C986.1 850.2 989.3 850.7 991.4 851.3 C993.5 851.9 995.4 852.8 997.5 853.4 C999.6 854.1 1001.7 854.4 1003.8 855.0 C1005.9 855.6 1008.0 856.2 1010.1 856.8 C1012.1 857.5 1014.3 858.0 1016.3 858.7 C1018.4 859.5 1020.2 860.9 1022.3 861.5 C1024.5 862.1 1026.9 861.6 1029.0 862.3 C1031.1 862.9 1032.7 864.8 1034.9 865.4 C1037.1 866.0 1039.9 865.2 1042.2 865.9 C1044.5 866.5 1046.4 868.1 1048.5 869.1 C1050.7 870.0 1052.9 870.9 1055.2 871.5 C1057.4 872.1 1059.8 872.0 1062.0 872.9 C1064.2 873.8 1065.9 875.9 1068.1 876.7 C1070.3 877.6 1073.9 877.8 1075.0 878.0"/><path d="M1090.0 860.0 C1090.5 861.3 1092.1 865.0 1092.9 867.5 C1093.8 870.0 1094.9 872.4 1095.0 874.9 C1095.1 877.3 1093.6 879.8 1093.5 882.3 C1093.5 884.8 1094.0 887.1 1094.6 889.7 C1095.2 892.3 1096.0 895.3 1097.2 897.9 C1098.5 900.5 1101.2 903.8 1102.0 905.0"/><path d="M1040.0 598.0 C1040.7 599.1 1043.0 602.3 1043.9 604.6 C1044.9 606.9 1045.3 609.3 1045.5 611.9 C1045.7 614.5 1045.3 617.5 1045.0 620.1 C1044.8 622.7 1043.8 625.3 1043.9 627.6 C1044.0 629.9 1044.8 631.9 1045.5 634.0 C1046.2 636.0 1047.6 639.0 1048.0 640.0"/><path d="M1110.0 620.0 C1110.6 621.4 1112.3 625.6 1113.5 628.3 C1114.7 630.9 1116.7 633.3 1117.1 635.7 C1117.5 638.2 1116.5 640.6 1115.9 643.0 C1115.4 645.4 1114.3 648.8 1114.0 650.0"/><path d="M960.0 700.0 C960.1 701.2 960.2 704.8 960.8 707.0 C961.3 709.3 962.7 711.4 963.4 713.5 C964.2 715.6 965.2 717.7 965.2 719.8 C965.2 722.0 963.6 724.1 963.4 726.4 C963.2 728.7 964.4 731.2 964.1 733.5 C963.8 735.8 961.8 737.9 961.6 740.1 C961.4 742.4 962.2 744.8 962.8 747.0 C963.3 749.3 964.0 751.5 964.9 753.7 C965.7 755.8 967.5 758.9 968.0 760.0"/></g>
<g fill="none" stroke="#fde3d6" stroke-width="1.4" stroke-linecap="round" opacity="0.55"><path d="M998.0 612.0 C998.4 613.0 999.7 615.8 1000.2 617.8 C1000.6 619.8 1000.2 622.0 1000.5 624.0 C1000.9 626.1 1002.1 627.9 1002.4 630.0 C1002.7 632.0 1002.2 634.2 1002.3 636.3 C1002.4 638.4 1002.4 640.5 1002.9 642.6 C1003.4 644.6 1004.6 646.2 1005.3 648.5 C1006.1 650.7 1007.2 653.5 1007.4 656.0 C1007.7 658.5 1007.0 661.2 1006.8 663.6 C1006.6 666.1 1006.5 668.5 1006.0 670.7 C1005.4 673.0 1004.8 675.1 1003.5 677.2 C1002.3 679.2 999.3 681.1 998.6 683.1 C998.0 685.2 999.8 687.5 999.7 689.7 C999.5 691.8 998.1 693.8 997.9 695.9 C997.6 698.0 997.8 700.3 998.4 702.4 C998.9 704.4 999.9 706.5 1001.1 708.4 C1002.3 710.2 1004.6 711.5 1005.6 713.4 C1006.7 715.3 1006.7 717.9 1007.4 719.9 C1008.2 721.9 1008.9 723.8 1010.0 725.4 C1011.1 727.1 1013.0 728.3 1014.1 729.9 C1015.2 731.6 1015.9 733.0 1016.7 735.2 C1017.4 737.3 1017.8 740.3 1018.8 742.8 C1019.8 745.2 1022.0 747.6 1022.6 749.9 C1023.2 752.1 1022.0 754.3 1022.4 756.3 C1022.7 758.3 1024.7 759.5 1024.7 761.7 C1024.8 763.9 1023.4 767.0 1022.7 769.7 C1022.1 772.4 1021.9 775.9 1020.6 778.0 C1019.2 780.1 1016.0 780.5 1014.5 782.3 C1013.1 784.1 1013.4 787.0 1011.8 788.8 C1010.1 790.5 1006.9 791.5 1004.6 792.9 C1002.3 794.3 1000.4 796.0 998.0 797.1 C995.7 798.2 993.0 798.9 990.5 799.5 C988.0 800.1 985.8 800.3 983.1 800.7 C980.4 801.0 977.1 801.7 974.3 801.4 C971.5 801.2 968.7 800.2 966.2 799.4 C963.6 798.5 961.2 797.6 958.9 796.5 C956.6 795.4 953.4 793.2 952.3 792.5" transform="translate(-0.6,-0.8)"/><path d="M1007.8 664.0 C1009.0 664.9 1012.8 667.4 1015.1 669.2 C1017.4 670.9 1019.6 672.9 1021.8 674.4 C1024.0 675.9 1025.9 677.1 1028.1 678.1 C1030.4 679.1 1032.9 679.2 1035.4 680.4 C1037.8 681.7 1040.2 684.2 1042.6 685.7 C1045.1 687.1 1048.8 688.4 1050.0 689.0" transform="translate(-0.6,-0.8)"/><path d="M1025.0 758.0 C1026.0 757.6 1029.0 756.5 1030.9 755.8 C1032.9 755.1 1034.9 754.3 1036.8 753.6 C1038.8 752.8 1040.4 752.1 1042.7 751.1 C1045.0 750.2 1048.1 749.0 1050.6 747.8 C1053.1 746.5 1054.5 744.1 1057.7 743.5 C1060.9 742.8 1066.8 744.8 1069.7 743.9 C1072.7 743.1 1073.2 739.6 1075.3 738.5 C1077.4 737.3 1079.5 738.0 1082.5 736.9 C1085.6 735.8 1091.5 733.5 1093.5 731.6 C1095.5 729.8 1094.0 727.7 1094.6 725.6 C1095.1 723.5 1097.6 720.6 1097.0 718.9 C1096.4 717.2 1092.6 717.1 1091.2 715.6 C1089.7 714.1 1089.0 712.0 1088.2 710.0 C1087.4 708.0 1086.8 705.7 1086.5 703.5 C1086.3 701.2 1086.8 699.4 1086.5 696.7 C1086.2 693.9 1085.5 689.8 1084.7 687.0 C1083.9 684.1 1082.3 682.2 1081.7 679.8 C1081.1 677.3 1081.3 674.8 1081.1 672.1 C1080.9 669.4 1080.5 666.4 1080.3 663.6 C1080.1 660.7 1080.0 656.4 1080.0 655.0" transform="translate(-0.6,-0.8)"/><path d="M1096.0 719.7 C1097.0 719.2 1100.3 717.7 1102.3 716.6 C1104.2 715.5 1105.6 714.1 1107.7 713.0 C1109.9 711.9 1112.6 711.0 1115.1 710.1 C1117.6 709.1 1120.2 708.2 1122.7 707.4 C1125.2 706.7 1127.8 705.8 1130.3 705.7 C1132.8 705.5 1135.3 705.7 1137.9 706.7 C1140.5 707.8 1144.6 711.1 1145.9 712.0" transform="translate(-0.6,-0.8)"/><path d="M1019.3 777.2 C1019.4 779.1 1019.0 785.5 1019.8 788.4 C1020.6 791.3 1023.0 792.5 1024.1 794.8 C1025.2 797.1 1025.2 799.4 1026.6 802.2 C1027.9 804.9 1031.1 808.6 1032.1 811.3 C1033.1 814.0 1032.3 816.1 1032.8 818.4 C1033.3 820.7 1034.6 823.9 1035.0 825.0" transform="translate(-0.6,-0.8)"/><path d="M963.8 629.6 C964.5 631.1 967.4 636.0 968.4 638.8 C969.3 641.6 968.4 644.1 969.5 646.2 C970.6 648.3 973.9 649.3 975.1 651.4 C976.3 653.5 975.4 656.3 976.6 658.6 C977.8 660.9 980.7 663.0 982.2 665.4 C983.7 667.8 984.6 670.8 985.4 673.2 C986.3 675.5 986.1 677.9 987.4 679.5 C988.7 681.1 991.0 680.9 993.1 682.6 C995.2 684.4 998.9 688.8 1000.0 690.0" transform="translate(-0.6,-0.8)"/><path d="M966.0 578.0 C965.9 579.2 965.4 582.9 965.1 585.3 C964.9 587.8 964.6 590.3 964.4 592.7 C964.2 595.2 964.6 597.5 964.2 600.0 C963.8 602.4 961.9 605.0 962.0 607.4 C962.1 609.9 964.7 612.3 965.0 614.8 C965.2 617.2 963.8 619.7 963.6 622.2 C963.4 624.7 963.7 628.4 963.8 629.6" transform="translate(-0.6,-0.8)"/><path d="M992.0 572.0 C992.2 573.0 992.9 576.1 993.4 578.1 C994.0 580.1 995.0 581.9 995.6 583.9 C996.1 585.9 996.3 587.8 996.8 590.0 C997.2 592.2 998.3 594.8 998.3 597.3 C998.3 599.7 996.7 602.3 996.7 604.7 C996.6 607.2 997.8 610.8 998.0 612.0" transform="translate(-0.6,-0.8)"/><path d="M1070.0 790.0 C1071.0 790.6 1074.1 792.2 1076.1 793.4 C1078.1 794.6 1080.0 795.8 1081.9 797.2 C1083.8 798.5 1085.3 800.5 1087.3 801.7 C1089.3 802.8 1092.7 802.6 1094.1 804.0 C1095.5 805.3 1095.4 807.9 1096.0 809.8 C1096.6 811.7 1098.4 813.1 1097.8 815.3 C1097.1 817.6 1093.1 821.9 1092.2 823.2" transform="translate(-0.6,-0.8)"/><path d="M1094.0 804.0 C1095.0 804.2 1098.0 804.5 1100.0 804.9 C1102.0 805.3 1103.9 806.1 1105.9 806.5 C1107.9 806.9 1109.9 807.3 1111.9 807.5 C1113.9 807.8 1117.0 807.9 1118.0 808.0" transform="translate(-0.6,-0.8)"/><path d="M1145.9 664.0 C1145.5 665.2 1144.7 668.9 1143.7 671.3 C1142.6 673.7 1139.9 676.0 1139.4 678.1 C1139.0 680.3 1140.3 682.2 1140.9 684.1 C1141.5 686.1 1142.7 689.0 1143.0 690.0" transform="translate(-0.6,-0.8)"/><path d="M1136.3 765.7 C1135.7 766.9 1134.3 770.5 1132.7 772.6 C1131.0 774.7 1127.3 776.1 1126.4 778.1 C1125.4 780.0 1126.7 782.0 1127.0 784.0 C1127.3 786.0 1127.8 789.0 1128.0 790.0" transform="translate(-0.6,-0.8)"/><path d="M952.0 808.0 C953.0 808.8 955.6 811.9 957.8 812.8 C960.0 813.7 962.9 812.8 965.2 813.5 C967.5 814.1 969.3 816.3 971.6 816.7 C973.8 817.2 976.2 815.5 978.5 815.9 C980.8 816.4 983.0 819.6 985.2 819.5 C987.3 819.5 989.3 816.1 991.5 815.8 C993.7 815.5 996.2 817.7 998.5 817.9 C1000.7 818.0 1002.8 816.8 1005.1 816.6 C1007.3 816.3 1009.5 816.5 1011.8 816.5 C1014.0 816.4 1016.2 816.8 1018.5 816.3 C1020.7 815.7 1023.1 813.2 1025.3 813.2 C1027.5 813.2 1029.7 815.1 1031.9 816.2 C1034.0 817.3 1035.9 819.1 1038.1 820.0 C1040.3 820.8 1042.7 821.2 1044.9 821.3 C1047.2 821.4 1049.4 820.8 1051.6 820.6 C1053.8 820.3 1056.0 819.9 1058.2 819.8 C1060.5 819.7 1063.9 820.0 1065.0 820.0" transform="translate(-0.6,-0.8)"/><path d="M985.0 850.0 C986.1 850.2 989.3 850.7 991.4 851.3 C993.5 851.9 995.4 852.8 997.5 853.4 C999.6 854.1 1001.7 854.4 1003.8 855.0 C1005.9 855.6 1008.0 856.2 1010.1 856.8 C1012.1 857.5 1014.3 858.0 1016.3 858.7 C1018.4 859.5 1020.2 860.9 1022.3 861.5 C1024.5 862.1 1026.9 861.6 1029.0 862.3 C1031.1 862.9 1032.7 864.8 1034.9 865.4 C1037.1 866.0 1039.9 865.2 1042.2 865.9 C1044.5 866.5 1046.4 868.1 1048.5 869.1 C1050.7 870.0 1052.9 870.9 1055.2 871.5 C1057.4 872.1 1059.8 872.0 1062.0 872.9 C1064.2 873.8 1065.9 875.9 1068.1 876.7 C1070.3 877.6 1073.9 877.8 1075.0 878.0" transform="translate(-0.6,-0.8)"/><path d="M1090.0 860.0 C1090.5 861.3 1092.1 865.0 1092.9 867.5 C1093.8 870.0 1094.9 872.4 1095.0 874.9 C1095.1 877.3 1093.6 879.8 1093.5 882.3 C1093.5 884.8 1094.0 887.1 1094.6 889.7 C1095.2 892.3 1096.0 895.3 1097.2 897.9 C1098.5 900.5 1101.2 903.8 1102.0 905.0" transform="translate(-0.6,-0.8)"/><path d="M1040.0 598.0 C1040.7 599.1 1043.0 602.3 1043.9 604.6 C1044.9 606.9 1045.3 609.3 1045.5 611.9 C1045.7 614.5 1045.3 617.5 1045.0 620.1 C1044.8 622.7 1043.8 625.3 1043.9 627.6 C1044.0 629.9 1044.8 631.9 1045.5 634.0 C1046.2 636.0 1047.6 639.0 1048.0 640.0" transform="translate(-0.6,-0.8)"/><path d="M1110.0 620.0 C1110.6 621.4 1112.3 625.6 1113.5 628.3 C1114.7 630.9 1116.7 633.3 1117.1 635.7 C1117.5 638.2 1116.5 640.6 1115.9 643.0 C1115.4 645.4 1114.3 648.8 1114.0 650.0" transform="translate(-0.6,-0.8)"/><path d="M960.0 700.0 C960.1 701.2 960.2 704.8 960.8 707.0 C961.3 709.3 962.7 711.4 963.4 713.5 C964.2 715.6 965.2 717.7 965.2 719.8 C965.2 722.0 963.6 724.1 963.4 726.4 C963.2 728.7 964.4 731.2 964.1 733.5 C963.8 735.8 961.8 737.9 961.6 740.1 C961.4 742.4 962.2 744.8 962.8 747.0 C963.3 749.3 964.0 751.5 964.9 753.7 C965.7 755.8 967.5 758.9 968.0 760.0" transform="translate(-0.6,-0.8)"/></g></g>
</g><g id="pM">
<path d="M914 972 C906 978 904 988 905.7 994 C908 1010 925 1022 960 1030 C990 1035 1010 1036.5 1035 1036.5 C1080 1036.5 1120 1030 1140 1022 C1160 1014 1168 1002 1168 992 C1167 975 1160 962 1150 952 Z" fill="url(#pMs)"/>
<path d="M906.5 991 C940 1005 990 1010 1035 1010 C1085 1010 1135 1004 1167.5 990 C1168 998 1162 1012 1140 1022 C1120 1030 1080 1036.5 1035 1036.5 C1010 1036.5 990 1035 960 1030 C925 1022 908 1010 906.5 991 Z" fill="#f3ad9f"/>
<path d="M906.5 991 C940 1005 990 1010 1035 1010 C1085 1010 1135 1004 1167.5 990" fill="none" stroke="#e3907f" stroke-width="2"/>
<path d="M906.5 991 C940 1005 990 1010 1035 1010 C1085 1010 1135 1004 1167.5 990" fill="none" stroke="#f6b8a9" stroke-width="2" transform="translate(0,3)" opacity="0.7"/>
<ellipse cx="978" cy="1003" rx="18" ry="6" fill="url(#pMsp)"/>
<ellipse cx="1092" cy="1001" rx="18" ry="6" fill="url(#pMsp)"/>
<path d="M775 860 C755 875 742 895 742 915 C742 940 752 958 775 968 C800 975 850 977 912 976 L960 900 L952 812 C925 805 895 797 862 800 C830 805 795 830 775 860 Z M854 800 C856 792 876 790 880 798 Z" fill="url(#pMk)"/>
<path d="M966 489 L1100 510 C1102.2 511.3 1109.3 515.2 1113.0 518.0 C1116.7 520.8 1119.2 523.7 1122.0 527.0 C1124.8 530.3 1127.2 533.2 1130.0 538.0 C1132.8 542.8 1136.2 549.5 1139.0 556.0 C1141.8 562.5 1144.7 570.3 1147.0 577.0 C1149.3 583.7 1151.1 589.7 1153.0 596.0 C1155.0 602.3 1157.2 608.7 1158.7 615.0 C1160.1 621.3 1161.3 627.7 1161.8 634.0 C1162.3 640.3 1161.7 646.7 1161.5 653.0 C1161.3 659.3 1160.8 665.5 1160.5 672.0 C1160.2 678.5 1160.4 685.5 1160.0 692.0 C1159.6 698.5 1158.8 704.7 1158.0 711.0 C1157.2 717.3 1156.0 723.7 1155.0 730.0 C1154.0 736.3 1153.2 742.7 1151.8 749.0 C1150.3 755.3 1148.0 761.7 1146.2 768.0 C1144.4 774.3 1142.3 780.6 1141.0 787.0 C1139.6 793.4 1138.9 800.0 1138.0 806.5 C1137.1 813.0 1136.1 819.6 1135.5 826.0 C1134.9 832.4 1134.5 838.7 1134.5 845.0 C1134.5 851.3 1135.0 857.7 1135.5 864.0 C1136.0 870.3 1136.8 876.7 1137.5 883.0 C1138.2 889.3 1139.1 895.6 1140.0 902.0 C1140.9 908.4 1141.8 916.0 1143.0 921.5 C1144.2 927.0 1145.8 930.1 1147.0 935.0 C1148.2 939.9 1149.5 948.3 1150.0 951.0 C1143.3 952.7 1129.2 958.0 1110.0 961.0 C1090.8 964.0 1060.0 966.7 1035.0 968.7 C1010.0 970.7 981.0 971.8 960.0 973.0 C939.0 974.2 917.5 975.5 909.0 976.0 C908.3 970.8 904.5 956.8 905.0 945.0 C905.5 933.2 908.2 920.8 912.0 905.0 C915.8 889.2 921.7 866.2 928.0 850.0 C934.3 833.8 946.5 820.8 950.0 808.0 C953.5 795.2 949.5 786.0 948.7 773.0 C948.0 760.0 946.6 744.3 945.5 730.0 C944.4 715.7 943.4 701.5 942.3 687.0 C941.2 672.5 939.9 654.7 939.0 643.0 C938.1 631.3 937.1 625.7 936.8 617.0 C936.5 608.3 936.7 599.2 937.3 591.0 C937.9 582.8 939.1 575.8 940.6 567.5 C942.1 559.2 944.0 549.4 946.0 541.5 C948.0 533.6 950.3 526.1 952.5 520.0 C954.7 513.9 956.8 510.2 959.0 505.0 C961.2 499.8 964.8 491.7 966.0 489.0 Z" fill="url(#pMb)"/>
<path d="M909 976 C945 974 990 971.5 1035 968.7 C1060 967 1110 961 1150 951" fill="none" stroke="#d9897b" stroke-width="2.2"/>
<clipPath id="pMclip"><path d="M966 489 L1100 510 C1102.2 511.3 1109.3 515.2 1113.0 518.0 C1116.7 520.8 1119.2 523.7 1122.0 527.0 C1124.8 530.3 1127.2 533.2 1130.0 538.0 C1132.8 542.8 1136.2 549.5 1139.0 556.0 C1141.8 562.5 1144.7 570.3 1147.0 577.0 C1149.3 583.7 1151.1 589.7 1153.0 596.0 C1155.0 602.3 1157.2 608.7 1158.7 615.0 C1160.1 621.3 1161.3 627.7 1161.8 634.0 C1162.3 640.3 1161.7 646.7 1161.5 653.0 C1161.3 659.3 1160.8 665.5 1160.5 672.0 C1160.2 678.5 1160.4 685.5 1160.0 692.0 C1159.6 698.5 1158.8 704.7 1158.0 711.0 C1157.2 717.3 1156.0 723.7 1155.0 730.0 C1154.0 736.3 1153.2 742.7 1151.8 749.0 C1150.3 755.3 1148.0 761.7 1146.2 768.0 C1144.4 774.3 1142.3 780.6 1141.0 787.0 C1139.6 793.4 1138.9 800.0 1138.0 806.5 C1137.1 813.0 1136.1 819.6 1135.5 826.0 C1134.9 832.4 1134.5 838.7 1134.5 845.0 C1134.5 851.3 1135.0 857.7 1135.5 864.0 C1136.0 870.3 1136.8 876.7 1137.5 883.0 C1138.2 889.3 1139.1 895.6 1140.0 902.0 C1140.9 908.4 1141.8 916.0 1143.0 921.5 C1144.2 927.0 1145.8 930.1 1147.0 935.0 C1148.2 939.9 1149.5 948.3 1150.0 951.0 C1143.3 952.7 1129.2 958.0 1110.0 961.0 C1090.8 964.0 1060.0 966.7 1035.0 968.7 C1010.0 970.7 981.0 971.8 960.0 973.0 C939.0 974.2 917.5 975.5 909.0 976.0 C908.3 970.8 904.5 956.8 905.0 945.0 C905.5 933.2 908.2 920.8 912.0 905.0 C915.8 889.2 921.7 866.2 928.0 850.0 C934.3 833.8 946.5 820.8 950.0 808.0 C953.5 795.2 949.5 786.0 948.7 773.0 C948.0 760.0 946.6 744.3 945.5 730.0 C944.4 715.7 943.4 701.5 942.3 687.0 C941.2 672.5 939.9 654.7 939.0 643.0 C938.1 631.3 937.1 625.7 936.8 617.0 C936.5 608.3 936.7 599.2 937.3 591.0 C937.9 582.8 939.1 575.8 940.6 567.5 C942.1 559.2 944.0 549.4 946.0 541.5 C948.0 533.6 950.3 526.1 952.5 520.0 C954.7 513.9 956.8 510.2 959.0 505.0 C961.2 499.8 964.8 491.7 966.0 489.0 Z"/></clipPath><g clip-path="url(#pMclip)">
<ellipse cx="990" cy="560" rx="70" ry="60" fill="url(#pMhl)"/>
<g fill="none" stroke="#e49e92"><path d="M948.0 503.7 C953.3 505.2 969.3 510.0 980.0 513.0 C990.7 516.1 1001.2 520.6 1012.0 521.9 C1022.8 523.3 1034.0 521.6 1045.0 521.1 C1056.0 520.6 1067.2 520.4 1078.0 519.0 C1088.8 517.6 1099.7 515.9 1110.0 512.8 C1120.3 509.7 1130.8 502.7 1140.0 500.2 C1149.2 497.8 1160.8 498.4 1165.0 498.1" transform="translate(0,3.9)" stroke-width="2.1" opacity="0.38"/><path d="M946.5 512.2 C952.1 513.8 969.1 519.8 980.0 522.2 C990.9 524.7 1001.2 525.1 1012.0 527.1 C1022.8 529.2 1034.0 533.8 1045.0 534.5 C1056.0 535.2 1067.2 533.7 1078.0 531.3 C1088.8 528.9 1099.7 522.4 1110.0 520.0 C1120.3 517.6 1130.8 518.1 1140.0 516.8 C1149.2 515.5 1160.8 513.0 1165.0 512.3" transform="translate(0,3.9)" stroke-width="2.2" opacity="0.34"/><path d="M945.0 526.6 C950.8 527.9 968.8 531.3 980.0 534.2 C991.2 537.2 1001.2 542.7 1012.0 544.2 C1022.8 545.7 1034.0 543.7 1045.0 543.3 C1056.0 542.9 1067.2 543.1 1078.0 541.8 C1088.8 540.5 1099.7 538.3 1110.0 535.4 C1120.3 532.4 1130.8 526.2 1140.0 524.1 C1149.2 522.0 1160.8 523.0 1165.0 522.7" transform="translate(0,3.5)" stroke-width="1.9" opacity="0.39"/><path d="M943.5 538.1 C949.6 539.7 968.6 545.1 980.0 547.6 C991.4 550.1 1001.2 551.5 1012.0 553.0 C1022.8 554.5 1034.0 556.5 1045.0 556.5 C1056.0 556.4 1067.2 554.6 1078.0 552.7 C1088.8 550.7 1099.7 546.8 1110.0 544.6 C1120.3 542.5 1130.8 541.4 1140.0 539.9 C1149.2 538.4 1160.8 536.2 1165.0 535.5" transform="translate(0,4.3)" stroke-width="2.5" opacity="0.36"/><path d="M942.0 549.7 C948.3 551.0 968.3 555.3 980.0 557.7 C991.7 560.2 1001.2 563.2 1012.0 564.5 C1022.8 565.8 1034.0 564.8 1045.0 565.3 C1056.0 565.9 1067.2 569.0 1078.0 567.8 C1088.8 566.7 1099.7 561.1 1110.0 558.5 C1120.3 555.8 1130.8 554.2 1140.0 551.9 C1149.2 549.5 1160.8 545.5 1165.0 544.2" transform="translate(0,4.5)" stroke-width="2.6" opacity="0.39"/><path d="M940.5 562.5 C947.1 564.2 968.1 569.0 980.0 572.6 C991.9 576.1 1001.2 582.1 1012.0 583.8 C1022.8 585.6 1034.0 583.1 1045.0 583.1 C1056.0 583.2 1067.2 585.9 1078.0 584.3 C1088.8 582.7 1099.7 577.3 1110.0 573.5 C1120.3 569.7 1130.8 563.5 1140.0 561.4 C1149.2 559.3 1160.8 561.0 1165.0 560.9" transform="translate(0,4.2)" stroke-width="2.4" opacity="0.27"/><path d="M939.0 571.1 C945.8 572.8 967.8 577.9 980.0 581.4 C992.2 585.0 1001.2 590.3 1012.0 592.2 C1022.8 594.2 1034.0 594.1 1045.0 593.2 C1056.0 592.2 1067.2 588.4 1078.0 586.3 C1088.8 584.2 1099.7 583.2 1110.0 580.4 C1120.3 577.6 1130.8 572.2 1140.0 569.6 C1149.2 567.1 1160.8 565.7 1165.0 564.9" transform="translate(0,4.2)" stroke-width="2.4" opacity="0.25"/><path d="M937.5 588.4 C944.6 589.7 967.6 594.2 980.0 596.3 C992.4 598.3 1001.2 599.0 1012.0 600.8 C1022.8 602.6 1034.0 607.0 1045.0 607.0 C1056.0 606.9 1067.2 602.0 1078.0 600.4 C1088.8 598.7 1099.7 600.0 1110.0 597.2 C1120.3 594.4 1130.8 586.4 1140.0 583.7 C1149.2 581.1 1160.8 581.8 1165.0 581.4" transform="translate(0,3.0)" stroke-width="1.5" opacity="0.27"/><path d="M936.0 603.3 C943.3 604.5 967.3 609.0 980.0 610.7 C992.7 612.5 1001.2 612.1 1012.0 613.6 C1022.8 615.2 1034.0 620.2 1045.0 620.0 C1056.0 619.9 1067.2 615.0 1078.0 612.9 C1088.8 610.8 1099.7 609.4 1110.0 607.4 C1120.3 605.4 1130.8 603.0 1140.0 600.9 C1149.2 598.8 1160.8 596.0 1165.0 595.0" transform="translate(0,2.8)" stroke-width="1.4" opacity="0.42"/></g>
<g fill="none" stroke="#f7c7b8"><path d="M948.0 503.7 C953.3 505.2 969.3 510.0 980.0 513.0 C990.7 516.1 1001.2 520.6 1012.0 521.9 C1022.8 523.3 1034.0 521.6 1045.0 521.1 C1056.0 520.6 1067.2 520.4 1078.0 519.0 C1088.8 517.6 1099.7 515.9 1110.0 512.8 C1120.3 509.7 1130.8 502.7 1140.0 500.2 C1149.2 497.8 1160.8 498.4 1165.0 498.1" stroke-width="3.6" opacity="0.54"/><path d="M946.5 512.2 C952.1 513.8 969.1 519.8 980.0 522.2 C990.9 524.7 1001.2 525.1 1012.0 527.1 C1022.8 529.2 1034.0 533.8 1045.0 534.5 C1056.0 535.2 1067.2 533.7 1078.0 531.3 C1088.8 528.9 1099.7 522.4 1110.0 520.0 C1120.3 517.6 1130.8 518.1 1140.0 516.8 C1149.2 515.5 1160.8 513.0 1165.0 512.3" stroke-width="3.6" opacity="0.48"/><path d="M945.0 526.6 C950.8 527.9 968.8 531.3 980.0 534.2 C991.2 537.2 1001.2 542.7 1012.0 544.2 C1022.8 545.7 1034.0 543.7 1045.0 543.3 C1056.0 542.9 1067.2 543.1 1078.0 541.8 C1088.8 540.5 1099.7 538.3 1110.0 535.4 C1120.3 532.4 1130.8 526.2 1140.0 524.1 C1149.2 522.0 1160.8 523.0 1165.0 522.7" stroke-width="3.1" opacity="0.55"/><path d="M943.5 538.1 C949.6 539.7 968.6 545.1 980.0 547.6 C991.4 550.1 1001.2 551.5 1012.0 553.0 C1022.8 554.5 1034.0 556.5 1045.0 556.5 C1056.0 556.4 1067.2 554.6 1078.0 552.7 C1088.8 550.7 1099.7 546.8 1110.0 544.6 C1120.3 542.5 1130.8 541.4 1140.0 539.9 C1149.2 538.4 1160.8 536.2 1165.0 535.5" stroke-width="4.1" opacity="0.51"/><path d="M942.0 549.7 C948.3 551.0 968.3 555.3 980.0 557.7 C991.7 560.2 1001.2 563.2 1012.0 564.5 C1022.8 565.8 1034.0 564.8 1045.0 565.3 C1056.0 565.9 1067.2 569.0 1078.0 567.8 C1088.8 566.7 1099.7 561.1 1110.0 558.5 C1120.3 555.8 1130.8 554.2 1140.0 551.9 C1149.2 549.5 1160.8 545.5 1165.0 544.2" stroke-width="4.4" opacity="0.55"/><path d="M940.5 562.5 C947.1 564.2 968.1 569.0 980.0 572.6 C991.9 576.1 1001.2 582.1 1012.0 583.8 C1022.8 585.6 1034.0 583.1 1045.0 583.1 C1056.0 583.2 1067.2 585.9 1078.0 584.3 C1088.8 582.7 1099.7 577.3 1110.0 573.5 C1120.3 569.7 1130.8 563.5 1140.0 561.4 C1149.2 559.3 1160.8 561.0 1165.0 560.9" stroke-width="3.9" opacity="0.38"/><path d="M939.0 571.1 C945.8 572.8 967.8 577.9 980.0 581.4 C992.2 585.0 1001.2 590.3 1012.0 592.2 C1022.8 594.2 1034.0 594.1 1045.0 593.2 C1056.0 592.2 1067.2 588.4 1078.0 586.3 C1088.8 584.2 1099.7 583.2 1110.0 580.4 C1120.3 577.6 1130.8 572.2 1140.0 569.6 C1149.2 567.1 1160.8 565.7 1165.0 564.9" stroke-width="4.0" opacity="0.35"/><path d="M937.5 588.4 C944.6 589.7 967.6 594.2 980.0 596.3 C992.4 598.3 1001.2 599.0 1012.0 600.8 C1022.8 602.6 1034.0 607.0 1045.0 607.0 C1056.0 606.9 1067.2 602.0 1078.0 600.4 C1088.8 598.7 1099.7 600.0 1110.0 597.2 C1120.3 594.4 1130.8 586.4 1140.0 583.7 C1149.2 581.1 1160.8 581.8 1165.0 581.4" stroke-width="2.5" opacity="0.38"/><path d="M936.0 603.3 C943.3 604.5 967.3 609.0 980.0 610.7 C992.7 612.5 1001.2 612.1 1012.0 613.6 C1022.8 615.2 1034.0 620.2 1045.0 620.0 C1056.0 619.9 1067.2 615.0 1078.0 612.9 C1088.8 610.8 1099.7 609.4 1110.0 607.4 C1120.3 605.4 1130.8 603.0 1140.0 600.9 C1149.2 598.8 1160.8 596.0 1165.0 595.0" stroke-width="2.3" opacity="0.60"/></g>
<g fill="none" stroke="#dd9587" stroke-width="6.5" stroke-linecap="round" stroke-linejoin="round" opacity="0.35"><path d="M998.0 612.0 C998.4 613.0 999.7 615.8 1000.2 617.8 C1000.6 619.8 1000.2 622.0 1000.5 624.0 C1000.9 626.1 1002.1 627.9 1002.4 630.0 C1002.7 632.0 1002.2 634.2 1002.3 636.3 C1002.4 638.4 1002.4 640.5 1002.9 642.6 C1003.4 644.6 1004.6 646.2 1005.3 648.5 C1006.1 650.7 1007.2 653.5 1007.4 656.0 C1007.7 658.5 1007.0 661.2 1006.8 663.6 C1006.6 666.1 1006.5 668.5 1006.0 670.7 C1005.4 673.0 1004.8 675.1 1003.5 677.2 C1002.3 679.2 999.3 681.1 998.6 683.1 C998.0 685.2 999.8 687.5 999.7 689.7 C999.5 691.8 998.1 693.8 997.9 695.9 C997.6 698.0 997.8 700.3 998.4 702.4 C998.9 704.4 999.9 706.5 1001.1 708.4 C1002.3 710.2 1004.6 711.5 1005.6 713.4 C1006.7 715.3 1006.7 717.9 1007.4 719.9 C1008.2 721.9 1008.9 723.8 1010.0 725.4 C1011.1 727.1 1013.0 728.3 1014.1 729.9 C1015.2 731.6 1015.9 733.0 1016.7 735.2 C1017.4 737.3 1017.8 740.3 1018.8 742.8 C1019.8 745.2 1022.0 747.6 1022.6 749.9 C1023.2 752.1 1022.0 754.3 1022.4 756.3 C1022.7 758.3 1024.7 759.5 1024.7 761.7 C1024.8 763.9 1023.4 767.0 1022.7 769.7 C1022.1 772.4 1021.9 775.9 1020.6 778.0 C1019.2 780.1 1016.0 780.5 1014.5 782.3 C1013.1 784.1 1013.4 787.0 1011.8 788.8 C1010.1 790.5 1006.9 791.5 1004.6 792.9 C1002.3 794.3 1000.4 796.0 998.0 797.1 C995.7 798.2 993.0 798.9 990.5 799.5 C988.0 800.1 985.8 800.3 983.1 800.7 C980.4 801.0 977.1 801.7 974.3 801.4 C971.5 801.2 968.7 800.2 966.2 799.4 C963.6 798.5 961.2 797.6 958.9 796.5 C956.6 795.4 953.4 793.2 952.3 792.5" transform="translate(1.3,1.8)"/><path d="M1007.8 664.0 C1009.0 664.9 1012.8 667.4 1015.1 669.2 C1017.4 670.9 1019.6 672.9 1021.8 674.4 C1024.0 675.9 1025.9 677.1 1028.1 678.1 C1030.4 679.1 1032.9 679.2 1035.4 680.4 C1037.8 681.7 1040.2 684.2 1042.6 685.7 C1045.1 687.1 1048.8 688.4 1050.0 689.0" transform="translate(1.3,1.8)"/><path d="M1025.0 758.0 C1026.0 757.6 1029.0 756.5 1030.9 755.8 C1032.9 755.1 1034.9 754.3 1036.8 753.6 C1038.8 752.8 1040.4 752.1 1042.7 751.1 C1045.0 750.2 1048.1 749.0 1050.6 747.8 C1053.1 746.5 1054.5 744.1 1057.7 743.5 C1060.9 742.8 1066.8 744.8 1069.7 743.9 C1072.7 743.1 1073.2 739.6 1075.3 738.5 C1077.4 737.3 1079.5 738.0 1082.5 736.9 C1085.6 735.8 1091.5 733.5 1093.5 731.6 C1095.5 729.8 1094.0 727.7 1094.6 725.6 C1095.1 723.5 1097.6 720.6 1097.0 718.9 C1096.4 717.2 1092.6 717.1 1091.2 715.6 C1089.7 714.1 1089.0 712.0 1088.2 710.0 C1087.4 708.0 1086.8 705.7 1086.5 703.5 C1086.3 701.2 1086.8 699.4 1086.5 696.7 C1086.2 693.9 1085.5 689.8 1084.7 687.0 C1083.9 684.1 1082.3 682.2 1081.7 679.8 C1081.1 677.3 1081.3 674.8 1081.1 672.1 C1080.9 669.4 1080.5 666.4 1080.3 663.6 C1080.1 660.7 1080.0 656.4 1080.0 655.0" transform="translate(1.3,1.8)"/><path d="M1096.0 719.7 C1097.0 719.2 1100.3 717.7 1102.3 716.6 C1104.2 715.5 1105.6 714.1 1107.7 713.0 C1109.9 711.9 1112.6 711.0 1115.1 710.1 C1117.6 709.1 1120.2 708.2 1122.7 707.4 C1125.2 706.7 1127.8 705.8 1130.3 705.7 C1132.8 705.5 1135.3 705.7 1137.9 706.7 C1140.5 707.8 1144.6 711.1 1145.9 712.0" transform="translate(1.3,1.8)"/><path d="M1019.3 777.2 C1019.4 779.1 1019.0 785.5 1019.8 788.4 C1020.6 791.3 1023.0 792.5 1024.1 794.8 C1025.2 797.1 1025.2 799.4 1026.6 802.2 C1027.9 804.9 1031.1 808.6 1032.1 811.3 C1033.1 814.0 1032.3 816.1 1032.8 818.4 C1033.3 820.7 1034.6 823.9 1035.0 825.0" transform="translate(1.3,1.8)"/><path d="M963.8 629.6 C964.5 631.1 967.4 636.0 968.4 638.8 C969.3 641.6 968.4 644.1 969.5 646.2 C970.6 648.3 973.9 649.3 975.1 651.4 C976.3 653.5 975.4 656.3 976.6 658.6 C977.8 660.9 980.7 663.0 982.2 665.4 C983.7 667.8 984.6 670.8 985.4 673.2 C986.3 675.5 986.1 677.9 987.4 679.5 C988.7 681.1 991.0 680.9 993.1 682.6 C995.2 684.4 998.9 688.8 1000.0 690.0" transform="translate(1.3,1.8)"/><path d="M966.0 578.0 C965.9 579.2 965.4 582.9 965.1 585.3 C964.9 587.8 964.6 590.3 964.4 592.7 C964.2 595.2 964.6 597.5 964.2 600.0 C963.8 602.4 961.9 605.0 962.0 607.4 C962.1 609.9 964.7 612.3 965.0 614.8 C965.2 617.2 963.8 619.7 963.6 622.2 C963.4 624.7 963.7 628.4 963.8 629.6" transform="translate(1.3,1.8)"/><path d="M992.0 572.0 C992.2 573.0 992.9 576.1 993.4 578.1 C994.0 580.1 995.0 581.9 995.6 583.9 C996.1 585.9 996.3 587.8 996.8 590.0 C997.2 592.2 998.3 594.8 998.3 597.3 C998.3 599.7 996.7 602.3 996.7 604.7 C996.6 607.2 997.8 610.8 998.0 612.0" transform="translate(1.3,1.8)"/><path d="M1070.0 790.0 C1071.0 790.6 1074.1 792.2 1076.1 793.4 C1078.1 794.6 1080.0 795.8 1081.9 797.2 C1083.8 798.5 1085.3 800.5 1087.3 801.7 C1089.3 802.8 1092.7 802.6 1094.1 804.0 C1095.5 805.3 1095.4 807.9 1096.0 809.8 C1096.6 811.7 1098.4 813.1 1097.8 815.3 C1097.1 817.6 1093.1 821.9 1092.2 823.2" transform="translate(1.3,1.8)"/><path d="M1094.0 804.0 C1095.0 804.2 1098.0 804.5 1100.0 804.9 C1102.0 805.3 1103.9 806.1 1105.9 806.5 C1107.9 806.9 1109.9 807.3 1111.9 807.5 C1113.9 807.8 1117.0 807.9 1118.0 808.0" transform="translate(1.3,1.8)"/><path d="M1145.9 664.0 C1145.5 665.2 1144.7 668.9 1143.7 671.3 C1142.6 673.7 1139.9 676.0 1139.4 678.1 C1139.0 680.3 1140.3 682.2 1140.9 684.1 C1141.5 686.1 1142.7 689.0 1143.0 690.0" transform="translate(1.3,1.8)"/><path d="M1136.3 765.7 C1135.7 766.9 1134.3 770.5 1132.7 772.6 C1131.0 774.7 1127.3 776.1 1126.4 778.1 C1125.4 780.0 1126.7 782.0 1127.0 784.0 C1127.3 786.0 1127.8 789.0 1128.0 790.0" transform="translate(1.3,1.8)"/><path d="M952.0 808.0 C953.0 808.8 955.6 811.9 957.8 812.8 C960.0 813.7 962.9 812.8 965.2 813.5 C967.5 814.1 969.3 816.3 971.6 816.7 C973.8 817.2 976.2 815.5 978.5 815.9 C980.8 816.4 983.0 819.6 985.2 819.5 C987.3 819.5 989.3 816.1 991.5 815.8 C993.7 815.5 996.2 817.7 998.5 817.9 C1000.7 818.0 1002.8 816.8 1005.1 816.6 C1007.3 816.3 1009.5 816.5 1011.8 816.5 C1014.0 816.4 1016.2 816.8 1018.5 816.3 C1020.7 815.7 1023.1 813.2 1025.3 813.2 C1027.5 813.2 1029.7 815.1 1031.9 816.2 C1034.0 817.3 1035.9 819.1 1038.1 820.0 C1040.3 820.8 1042.7 821.2 1044.9 821.3 C1047.2 821.4 1049.4 820.8 1051.6 820.6 C1053.8 820.3 1056.0 819.9 1058.2 819.8 C1060.5 819.7 1063.9 820.0 1065.0 820.0" transform="translate(1.3,1.8)"/><path d="M985.0 850.0 C986.1 850.2 989.3 850.7 991.4 851.3 C993.5 851.9 995.4 852.8 997.5 853.4 C999.6 854.1 1001.7 854.4 1003.8 855.0 C1005.9 855.6 1008.0 856.2 1010.1 856.8 C1012.1 857.5 1014.3 858.0 1016.3 858.7 C1018.4 859.5 1020.2 860.9 1022.3 861.5 C1024.5 862.1 1026.9 861.6 1029.0 862.3 C1031.1 862.9 1032.7 864.8 1034.9 865.4 C1037.1 866.0 1039.9 865.2 1042.2 865.9 C1044.5 866.5 1046.4 868.1 1048.5 869.1 C1050.7 870.0 1052.9 870.9 1055.2 871.5 C1057.4 872.1 1059.8 872.0 1062.0 872.9 C1064.2 873.8 1065.9 875.9 1068.1 876.7 C1070.3 877.6 1073.9 877.8 1075.0 878.0" transform="translate(1.3,1.8)"/><path d="M1090.0 860.0 C1090.5 861.3 1092.1 865.0 1092.9 867.5 C1093.8 870.0 1094.9 872.4 1095.0 874.9 C1095.1 877.3 1093.6 879.8 1093.5 882.3 C1093.5 884.8 1094.0 887.1 1094.6 889.7 C1095.2 892.3 1096.0 895.3 1097.2 897.9 C1098.5 900.5 1101.2 903.8 1102.0 905.0" transform="translate(1.3,1.8)"/><path d="M1040.0 598.0 C1040.7 599.1 1043.0 602.3 1043.9 604.6 C1044.9 606.9 1045.3 609.3 1045.5 611.9 C1045.7 614.5 1045.3 617.5 1045.0 620.1 C1044.8 622.7 1043.8 625.3 1043.9 627.6 C1044.0 629.9 1044.8 631.9 1045.5 634.0 C1046.2 636.0 1047.6 639.0 1048.0 640.0" transform="translate(1.3,1.8)"/><path d="M1110.0 620.0 C1110.6 621.4 1112.3 625.6 1113.5 628.3 C1114.7 630.9 1116.7 633.3 1117.1 635.7 C1117.5 638.2 1116.5 640.6 1115.9 643.0 C1115.4 645.4 1114.3 648.8 1114.0 650.0" transform="translate(1.3,1.8)"/><path d="M960.0 700.0 C960.1 701.2 960.2 704.8 960.8 707.0 C961.3 709.3 962.7 711.4 963.4 713.5 C964.2 715.6 965.2 717.7 965.2 719.8 C965.2 722.0 963.6 724.1 963.4 726.4 C963.2 728.7 964.4 731.2 964.1 733.5 C963.8 735.8 961.8 737.9 961.6 740.1 C961.4 742.4 962.2 744.8 962.8 747.0 C963.3 749.3 964.0 751.5 964.9 753.7 C965.7 755.8 967.5 758.9 968.0 760.0" transform="translate(1.3,1.8)"/></g>
<g fill="none" stroke="#f8cdbd" stroke-width="5.2" stroke-linecap="round" stroke-linejoin="round" opacity="0.8"><path d="M998.0 612.0 C998.4 613.0 999.7 615.8 1000.2 617.8 C1000.6 619.8 1000.2 622.0 1000.5 624.0 C1000.9 626.1 1002.1 627.9 1002.4 630.0 C1002.7 632.0 1002.2 634.2 1002.3 636.3 C1002.4 638.4 1002.4 640.5 1002.9 642.6 C1003.4 644.6 1004.6 646.2 1005.3 648.5 C1006.1 650.7 1007.2 653.5 1007.4 656.0 C1007.7 658.5 1007.0 661.2 1006.8 663.6 C1006.6 666.1 1006.5 668.5 1006.0 670.7 C1005.4 673.0 1004.8 675.1 1003.5 677.2 C1002.3 679.2 999.3 681.1 998.6 683.1 C998.0 685.2 999.8 687.5 999.7 689.7 C999.5 691.8 998.1 693.8 997.9 695.9 C997.6 698.0 997.8 700.3 998.4 702.4 C998.9 704.4 999.9 706.5 1001.1 708.4 C1002.3 710.2 1004.6 711.5 1005.6 713.4 C1006.7 715.3 1006.7 717.9 1007.4 719.9 C1008.2 721.9 1008.9 723.8 1010.0 725.4 C1011.1 727.1 1013.0 728.3 1014.1 729.9 C1015.2 731.6 1015.9 733.0 1016.7 735.2 C1017.4 737.3 1017.8 740.3 1018.8 742.8 C1019.8 745.2 1022.0 747.6 1022.6 749.9 C1023.2 752.1 1022.0 754.3 1022.4 756.3 C1022.7 758.3 1024.7 759.5 1024.7 761.7 C1024.8 763.9 1023.4 767.0 1022.7 769.7 C1022.1 772.4 1021.9 775.9 1020.6 778.0 C1019.2 780.1 1016.0 780.5 1014.5 782.3 C1013.1 784.1 1013.4 787.0 1011.8 788.8 C1010.1 790.5 1006.9 791.5 1004.6 792.9 C1002.3 794.3 1000.4 796.0 998.0 797.1 C995.7 798.2 993.0 798.9 990.5 799.5 C988.0 800.1 985.8 800.3 983.1 800.7 C980.4 801.0 977.1 801.7 974.3 801.4 C971.5 801.2 968.7 800.2 966.2 799.4 C963.6 798.5 961.2 797.6 958.9 796.5 C956.6 795.4 953.4 793.2 952.3 792.5"/><path d="M1007.8 664.0 C1009.0 664.9 1012.8 667.4 1015.1 669.2 C1017.4 670.9 1019.6 672.9 1021.8 674.4 C1024.0 675.9 1025.9 677.1 1028.1 678.1 C1030.4 679.1 1032.9 679.2 1035.4 680.4 C1037.8 681.7 1040.2 684.2 1042.6 685.7 C1045.1 687.1 1048.8 688.4 1050.0 689.0"/><path d="M1025.0 758.0 C1026.0 757.6 1029.0 756.5 1030.9 755.8 C1032.9 755.1 1034.9 754.3 1036.8 753.6 C1038.8 752.8 1040.4 752.1 1042.7 751.1 C1045.0 750.2 1048.1 749.0 1050.6 747.8 C1053.1 746.5 1054.5 744.1 1057.7 743.5 C1060.9 742.8 1066.8 744.8 1069.7 743.9 C1072.7 743.1 1073.2 739.6 1075.3 738.5 C1077.4 737.3 1079.5 738.0 1082.5 736.9 C1085.6 735.8 1091.5 733.5 1093.5 731.6 C1095.5 729.8 1094.0 727.7 1094.6 725.6 C1095.1 723.5 1097.6 720.6 1097.0 718.9 C1096.4 717.2 1092.6 717.1 1091.2 715.6 C1089.7 714.1 1089.0 712.0 1088.2 710.0 C1087.4 708.0 1086.8 705.7 1086.5 703.5 C1086.3 701.2 1086.8 699.4 1086.5 696.7 C1086.2 693.9 1085.5 689.8 1084.7 687.0 C1083.9 684.1 1082.3 682.2 1081.7 679.8 C1081.1 677.3 1081.3 674.8 1081.1 672.1 C1080.9 669.4 1080.5 666.4 1080.3 663.6 C1080.1 660.7 1080.0 656.4 1080.0 655.0"/><path d="M1096.0 719.7 C1097.0 719.2 1100.3 717.7 1102.3 716.6 C1104.2 715.5 1105.6 714.1 1107.7 713.0 C1109.9 711.9 1112.6 711.0 1115.1 710.1 C1117.6 709.1 1120.2 708.2 1122.7 707.4 C1125.2 706.7 1127.8 705.8 1130.3 705.7 C1132.8 705.5 1135.3 705.7 1137.9 706.7 C1140.5 707.8 1144.6 711.1 1145.9 712.0"/><path d="M1019.3 777.2 C1019.4 779.1 1019.0 785.5 1019.8 788.4 C1020.6 791.3 1023.0 792.5 1024.1 794.8 C1025.2 797.1 1025.2 799.4 1026.6 802.2 C1027.9 804.9 1031.1 808.6 1032.1 811.3 C1033.1 814.0 1032.3 816.1 1032.8 818.4 C1033.3 820.7 1034.6 823.9 1035.0 825.0"/><path d="M963.8 629.6 C964.5 631.1 967.4 636.0 968.4 638.8 C969.3 641.6 968.4 644.1 969.5 646.2 C970.6 648.3 973.9 649.3 975.1 651.4 C976.3 653.5 975.4 656.3 976.6 658.6 C977.8 660.9 980.7 663.0 982.2 665.4 C983.7 667.8 984.6 670.8 985.4 673.2 C986.3 675.5 986.1 677.9 987.4 679.5 C988.7 681.1 991.0 680.9 993.1 682.6 C995.2 684.4 998.9 688.8 1000.0 690.0"/><path d="M966.0 578.0 C965.9 579.2 965.4 582.9 965.1 585.3 C964.9 587.8 964.6 590.3 964.4 592.7 C964.2 595.2 964.6 597.5 964.2 600.0 C963.8 602.4 961.9 605.0 962.0 607.4 C962.1 609.9 964.7 612.3 965.0 614.8 C965.2 617.2 963.8 619.7 963.6 622.2 C963.4 624.7 963.7 628.4 963.8 629.6"/><path d="M992.0 572.0 C992.2 573.0 992.9 576.1 993.4 578.1 C994.0 580.1 995.0 581.9 995.6 583.9 C996.1 585.9 996.3 587.8 996.8 590.0 C997.2 592.2 998.3 594.8 998.3 597.3 C998.3 599.7 996.7 602.3 996.7 604.7 C996.6 607.2 997.8 610.8 998.0 612.0"/><path d="M1070.0 790.0 C1071.0 790.6 1074.1 792.2 1076.1 793.4 C1078.1 794.6 1080.0 795.8 1081.9 797.2 C1083.8 798.5 1085.3 800.5 1087.3 801.7 C1089.3 802.8 1092.7 802.6 1094.1 804.0 C1095.5 805.3 1095.4 807.9 1096.0 809.8 C1096.6 811.7 1098.4 813.1 1097.8 815.3 C1097.1 817.6 1093.1 821.9 1092.2 823.2"/><path d="M1094.0 804.0 C1095.0 804.2 1098.0 804.5 1100.0 804.9 C1102.0 805.3 1103.9 806.1 1105.9 806.5 C1107.9 806.9 1109.9 807.3 1111.9 807.5 C1113.9 807.8 1117.0 807.9 1118.0 808.0"/><path d="M1145.9 664.0 C1145.5 665.2 1144.7 668.9 1143.7 671.3 C1142.6 673.7 1139.9 676.0 1139.4 678.1 C1139.0 680.3 1140.3 682.2 1140.9 684.1 C1141.5 686.1 1142.7 689.0 1143.0 690.0"/><path d="M1136.3 765.7 C1135.7 766.9 1134.3 770.5 1132.7 772.6 C1131.0 774.7 1127.3 776.1 1126.4 778.1 C1125.4 780.0 1126.7 782.0 1127.0 784.0 C1127.3 786.0 1127.8 789.0 1128.0 790.0"/><path d="M952.0 808.0 C953.0 808.8 955.6 811.9 957.8 812.8 C960.0 813.7 962.9 812.8 965.2 813.5 C967.5 814.1 969.3 816.3 971.6 816.7 C973.8 817.2 976.2 815.5 978.5 815.9 C980.8 816.4 983.0 819.6 985.2 819.5 C987.3 819.5 989.3 816.1 991.5 815.8 C993.7 815.5 996.2 817.7 998.5 817.9 C1000.7 818.0 1002.8 816.8 1005.1 816.6 C1007.3 816.3 1009.5 816.5 1011.8 816.5 C1014.0 816.4 1016.2 816.8 1018.5 816.3 C1020.7 815.7 1023.1 813.2 1025.3 813.2 C1027.5 813.2 1029.7 815.1 1031.9 816.2 C1034.0 817.3 1035.9 819.1 1038.1 820.0 C1040.3 820.8 1042.7 821.2 1044.9 821.3 C1047.2 821.4 1049.4 820.8 1051.6 820.6 C1053.8 820.3 1056.0 819.9 1058.2 819.8 C1060.5 819.7 1063.9 820.0 1065.0 820.0"/><path d="M985.0 850.0 C986.1 850.2 989.3 850.7 991.4 851.3 C993.5 851.9 995.4 852.8 997.5 853.4 C999.6 854.1 1001.7 854.4 1003.8 855.0 C1005.9 855.6 1008.0 856.2 1010.1 856.8 C1012.1 857.5 1014.3 858.0 1016.3 858.7 C1018.4 859.5 1020.2 860.9 1022.3 861.5 C1024.5 862.1 1026.9 861.6 1029.0 862.3 C1031.1 862.9 1032.7 864.8 1034.9 865.4 C1037.1 866.0 1039.9 865.2 1042.2 865.9 C1044.5 866.5 1046.4 868.1 1048.5 869.1 C1050.7 870.0 1052.9 870.9 1055.2 871.5 C1057.4 872.1 1059.8 872.0 1062.0 872.9 C1064.2 873.8 1065.9 875.9 1068.1 876.7 C1070.3 877.6 1073.9 877.8 1075.0 878.0"/><path d="M1090.0 860.0 C1090.5 861.3 1092.1 865.0 1092.9 867.5 C1093.8 870.0 1094.9 872.4 1095.0 874.9 C1095.1 877.3 1093.6 879.8 1093.5 882.3 C1093.5 884.8 1094.0 887.1 1094.6 889.7 C1095.2 892.3 1096.0 895.3 1097.2 897.9 C1098.5 900.5 1101.2 903.8 1102.0 905.0"/><path d="M1040.0 598.0 C1040.7 599.1 1043.0 602.3 1043.9 604.6 C1044.9 606.9 1045.3 609.3 1045.5 611.9 C1045.7 614.5 1045.3 617.5 1045.0 620.1 C1044.8 622.7 1043.8 625.3 1043.9 627.6 C1044.0 629.9 1044.8 631.9 1045.5 634.0 C1046.2 636.0 1047.6 639.0 1048.0 640.0"/><path d="M1110.0 620.0 C1110.6 621.4 1112.3 625.6 1113.5 628.3 C1114.7 630.9 1116.7 633.3 1117.1 635.7 C1117.5 638.2 1116.5 640.6 1115.9 643.0 C1115.4 645.4 1114.3 648.8 1114.0 650.0"/><path d="M960.0 700.0 C960.1 701.2 960.2 704.8 960.8 707.0 C961.3 709.3 962.7 711.4 963.4 713.5 C964.2 715.6 965.2 717.7 965.2 719.8 C965.2 722.0 963.6 724.1 963.4 726.4 C963.2 728.7 964.4 731.2 964.1 733.5 C963.8 735.8 961.8 737.9 961.6 740.1 C961.4 742.4 962.2 744.8 962.8 747.0 C963.3 749.3 964.0 751.5 964.9 753.7 C965.7 755.8 967.5 758.9 968.0 760.0"/></g>
<g fill="none" stroke="#fde3d6" stroke-width="1.4" stroke-linecap="round" opacity="0.55"><path d="M998.0 612.0 C998.4 613.0 999.7 615.8 1000.2 617.8 C1000.6 619.8 1000.2 622.0 1000.5 624.0 C1000.9 626.1 1002.1 627.9 1002.4 630.0 C1002.7 632.0 1002.2 634.2 1002.3 636.3 C1002.4 638.4 1002.4 640.5 1002.9 642.6 C1003.4 644.6 1004.6 646.2 1005.3 648.5 C1006.1 650.7 1007.2 653.5 1007.4 656.0 C1007.7 658.5 1007.0 661.2 1006.8 663.6 C1006.6 666.1 1006.5 668.5 1006.0 670.7 C1005.4 673.0 1004.8 675.1 1003.5 677.2 C1002.3 679.2 999.3 681.1 998.6 683.1 C998.0 685.2 999.8 687.5 999.7 689.7 C999.5 691.8 998.1 693.8 997.9 695.9 C997.6 698.0 997.8 700.3 998.4 702.4 C998.9 704.4 999.9 706.5 1001.1 708.4 C1002.3 710.2 1004.6 711.5 1005.6 713.4 C1006.7 715.3 1006.7 717.9 1007.4 719.9 C1008.2 721.9 1008.9 723.8 1010.0 725.4 C1011.1 727.1 1013.0 728.3 1014.1 729.9 C1015.2 731.6 1015.9 733.0 1016.7 735.2 C1017.4 737.3 1017.8 740.3 1018.8 742.8 C1019.8 745.2 1022.0 747.6 1022.6 749.9 C1023.2 752.1 1022.0 754.3 1022.4 756.3 C1022.7 758.3 1024.7 759.5 1024.7 761.7 C1024.8 763.9 1023.4 767.0 1022.7 769.7 C1022.1 772.4 1021.9 775.9 1020.6 778.0 C1019.2 780.1 1016.0 780.5 1014.5 782.3 C1013.1 784.1 1013.4 787.0 1011.8 788.8 C1010.1 790.5 1006.9 791.5 1004.6 792.9 C1002.3 794.3 1000.4 796.0 998.0 797.1 C995.7 798.2 993.0 798.9 990.5 799.5 C988.0 800.1 985.8 800.3 983.1 800.7 C980.4 801.0 977.1 801.7 974.3 801.4 C971.5 801.2 968.7 800.2 966.2 799.4 C963.6 798.5 961.2 797.6 958.9 796.5 C956.6 795.4 953.4 793.2 952.3 792.5" transform="translate(-0.6,-0.8)"/><path d="M1007.8 664.0 C1009.0 664.9 1012.8 667.4 1015.1 669.2 C1017.4 670.9 1019.6 672.9 1021.8 674.4 C1024.0 675.9 1025.9 677.1 1028.1 678.1 C1030.4 679.1 1032.9 679.2 1035.4 680.4 C1037.8 681.7 1040.2 684.2 1042.6 685.7 C1045.1 687.1 1048.8 688.4 1050.0 689.0" transform="translate(-0.6,-0.8)"/><path d="M1025.0 758.0 C1026.0 757.6 1029.0 756.5 1030.9 755.8 C1032.9 755.1 1034.9 754.3 1036.8 753.6 C1038.8 752.8 1040.4 752.1 1042.7 751.1 C1045.0 750.2 1048.1 749.0 1050.6 747.8 C1053.1 746.5 1054.5 744.1 1057.7 743.5 C1060.9 742.8 1066.8 744.8 1069.7 743.9 C1072.7 743.1 1073.2 739.6 1075.3 738.5 C1077.4 737.3 1079.5 738.0 1082.5 736.9 C1085.6 735.8 1091.5 733.5 1093.5 731.6 C1095.5 729.8 1094.0 727.7 1094.6 725.6 C1095.1 723.5 1097.6 720.6 1097.0 718.9 C1096.4 717.2 1092.6 717.1 1091.2 715.6 C1089.7 714.1 1089.0 712.0 1088.2 710.0 C1087.4 708.0 1086.8 705.7 1086.5 703.5 C1086.3 701.2 1086.8 699.4 1086.5 696.7 C1086.2 693.9 1085.5 689.8 1084.7 687.0 C1083.9 684.1 1082.3 682.2 1081.7 679.8 C1081.1 677.3 1081.3 674.8 1081.1 672.1 C1080.9 669.4 1080.5 666.4 1080.3 663.6 C1080.1 660.7 1080.0 656.4 1080.0 655.0" transform="translate(-0.6,-0.8)"/><path d="M1096.0 719.7 C1097.0 719.2 1100.3 717.7 1102.3 716.6 C1104.2 715.5 1105.6 714.1 1107.7 713.0 C1109.9 711.9 1112.6 711.0 1115.1 710.1 C1117.6 709.1 1120.2 708.2 1122.7 707.4 C1125.2 706.7 1127.8 705.8 1130.3 705.7 C1132.8 705.5 1135.3 705.7 1137.9 706.7 C1140.5 707.8 1144.6 711.1 1145.9 712.0" transform="translate(-0.6,-0.8)"/><path d="M1019.3 777.2 C1019.4 779.1 1019.0 785.5 1019.8 788.4 C1020.6 791.3 1023.0 792.5 1024.1 794.8 C1025.2 797.1 1025.2 799.4 1026.6 802.2 C1027.9 804.9 1031.1 808.6 1032.1 811.3 C1033.1 814.0 1032.3 816.1 1032.8 818.4 C1033.3 820.7 1034.6 823.9 1035.0 825.0" transform="translate(-0.6,-0.8)"/><path d="M963.8 629.6 C964.5 631.1 967.4 636.0 968.4 638.8 C969.3 641.6 968.4 644.1 969.5 646.2 C970.6 648.3 973.9 649.3 975.1 651.4 C976.3 653.5 975.4 656.3 976.6 658.6 C977.8 660.9 980.7 663.0 982.2 665.4 C983.7 667.8 984.6 670.8 985.4 673.2 C986.3 675.5 986.1 677.9 987.4 679.5 C988.7 681.1 991.0 680.9 993.1 682.6 C995.2 684.4 998.9 688.8 1000.0 690.0" transform="translate(-0.6,-0.8)"/><path d="M966.0 578.0 C965.9 579.2 965.4 582.9 965.1 585.3 C964.9 587.8 964.6 590.3 964.4 592.7 C964.2 595.2 964.6 597.5 964.2 600.0 C963.8 602.4 961.9 605.0 962.0 607.4 C962.1 609.9 964.7 612.3 965.0 614.8 C965.2 617.2 963.8 619.7 963.6 622.2 C963.4 624.7 963.7 628.4 963.8 629.6" transform="translate(-0.6,-0.8)"/><path d="M992.0 572.0 C992.2 573.0 992.9 576.1 993.4 578.1 C994.0 580.1 995.0 581.9 995.6 583.9 C996.1 585.9 996.3 587.8 996.8 590.0 C997.2 592.2 998.3 594.8 998.3 597.3 C998.3 599.7 996.7 602.3 996.7 604.7 C996.6 607.2 997.8 610.8 998.0 612.0" transform="translate(-0.6,-0.8)"/><path d="M1070.0 790.0 C1071.0 790.6 1074.1 792.2 1076.1 793.4 C1078.1 794.6 1080.0 795.8 1081.9 797.2 C1083.8 798.5 1085.3 800.5 1087.3 801.7 C1089.3 802.8 1092.7 802.6 1094.1 804.0 C1095.5 805.3 1095.4 807.9 1096.0 809.8 C1096.6 811.7 1098.4 813.1 1097.8 815.3 C1097.1 817.6 1093.1 821.9 1092.2 823.2" transform="translate(-0.6,-0.8)"/><path d="M1094.0 804.0 C1095.0 804.2 1098.0 804.5 1100.0 804.9 C1102.0 805.3 1103.9 806.1 1105.9 806.5 C1107.9 806.9 1109.9 807.3 1111.9 807.5 C1113.9 807.8 1117.0 807.9 1118.0 808.0" transform="translate(-0.6,-0.8)"/><path d="M1145.9 664.0 C1145.5 665.2 1144.7 668.9 1143.7 671.3 C1142.6 673.7 1139.9 676.0 1139.4 678.1 C1139.0 680.3 1140.3 682.2 1140.9 684.1 C1141.5 686.1 1142.7 689.0 1143.0 690.0" transform="translate(-0.6,-0.8)"/><path d="M1136.3 765.7 C1135.7 766.9 1134.3 770.5 1132.7 772.6 C1131.0 774.7 1127.3 776.1 1126.4 778.1 C1125.4 780.0 1126.7 782.0 1127.0 784.0 C1127.3 786.0 1127.8 789.0 1128.0 790.0" transform="translate(-0.6,-0.8)"/><path d="M952.0 808.0 C953.0 808.8 955.6 811.9 957.8 812.8 C960.0 813.7 962.9 812.8 965.2 813.5 C967.5 814.1 969.3 816.3 971.6 816.7 C973.8 817.2 976.2 815.5 978.5 815.9 C980.8 816.4 983.0 819.6 985.2 819.5 C987.3 819.5 989.3 816.1 991.5 815.8 C993.7 815.5 996.2 817.7 998.5 817.9 C1000.7 818.0 1002.8 816.8 1005.1 816.6 C1007.3 816.3 1009.5 816.5 1011.8 816.5 C1014.0 816.4 1016.2 816.8 1018.5 816.3 C1020.7 815.7 1023.1 813.2 1025.3 813.2 C1027.5 813.2 1029.7 815.1 1031.9 816.2 C1034.0 817.3 1035.9 819.1 1038.1 820.0 C1040.3 820.8 1042.7 821.2 1044.9 821.3 C1047.2 821.4 1049.4 820.8 1051.6 820.6 C1053.8 820.3 1056.0 819.9 1058.2 819.8 C1060.5 819.7 1063.9 820.0 1065.0 820.0" transform="translate(-0.6,-0.8)"/><path d="M985.0 850.0 C986.1 850.2 989.3 850.7 991.4 851.3 C993.5 851.9 995.4 852.8 997.5 853.4 C999.6 854.1 1001.7 854.4 1003.8 855.0 C1005.9 855.6 1008.0 856.2 1010.1 856.8 C1012.1 857.5 1014.3 858.0 1016.3 858.7 C1018.4 859.5 1020.2 860.9 1022.3 861.5 C1024.5 862.1 1026.9 861.6 1029.0 862.3 C1031.1 862.9 1032.7 864.8 1034.9 865.4 C1037.1 866.0 1039.9 865.2 1042.2 865.9 C1044.5 866.5 1046.4 868.1 1048.5 869.1 C1050.7 870.0 1052.9 870.9 1055.2 871.5 C1057.4 872.1 1059.8 872.0 1062.0 872.9 C1064.2 873.8 1065.9 875.9 1068.1 876.7 C1070.3 877.6 1073.9 877.8 1075.0 878.0" transform="translate(-0.6,-0.8)"/><path d="M1090.0 860.0 C1090.5 861.3 1092.1 865.0 1092.9 867.5 C1093.8 870.0 1094.9 872.4 1095.0 874.9 C1095.1 877.3 1093.6 879.8 1093.5 882.3 C1093.5 884.8 1094.0 887.1 1094.6 889.7 C1095.2 892.3 1096.0 895.3 1097.2 897.9 C1098.5 900.5 1101.2 903.8 1102.0 905.0" transform="translate(-0.6,-0.8)"/><path d="M1040.0 598.0 C1040.7 599.1 1043.0 602.3 1043.9 604.6 C1044.9 606.9 1045.3 609.3 1045.5 611.9 C1045.7 614.5 1045.3 617.5 1045.0 620.1 C1044.8 622.7 1043.8 625.3 1043.9 627.6 C1044.0 629.9 1044.8 631.9 1045.5 634.0 C1046.2 636.0 1047.6 639.0 1048.0 640.0" transform="translate(-0.6,-0.8)"/><path d="M1110.0 620.0 C1110.6 621.4 1112.3 625.6 1113.5 628.3 C1114.7 630.9 1116.7 633.3 1117.1 635.7 C1117.5 638.2 1116.5 640.6 1115.9 643.0 C1115.4 645.4 1114.3 648.8 1114.0 650.0" transform="translate(-0.6,-0.8)"/><path d="M960.0 700.0 C960.1 701.2 960.2 704.8 960.8 707.0 C961.3 709.3 962.7 711.4 963.4 713.5 C964.2 715.6 965.2 717.7 965.2 719.8 C965.2 722.0 963.6 724.1 963.4 726.4 C963.2 728.7 964.4 731.2 964.1 733.5 C963.8 735.8 961.8 737.9 961.6 740.1 C961.4 742.4 962.2 744.8 962.8 747.0 C963.3 749.3 964.0 751.5 964.9 753.7 C965.7 755.8 967.5 758.9 968.0 760.0" transform="translate(-0.6,-0.8)"/></g></g>
</g><g id="pL">
<path d="M914 972 C906 978 904 988 905.7 994 C908 1010 925 1022 960 1030 C990 1035 1010 1036.5 1035 1036.5 C1080 1036.5 1120 1030 1140 1022 C1160 1014 1168 1002 1168 992 C1167 975 1160 962 1150 952 Z" fill="url(#pLs)"/>
<path d="M906.5 991 C940 1005 990 1010 1035 1010 C1085 1010 1135 1004 1167.5 990 C1168 998 1162 1012 1140 1022 C1120 1030 1080 1036.5 1035 1036.5 C1010 1036.5 990 1035 960 1030 C925 1022 908 1010 906.5 991 Z" fill="#f3ad9f"/>
<path d="M906.5 991 C940 1005 990 1010 1035 1010 C1085 1010 1135 1004 1167.5 990" fill="none" stroke="#e3907f" stroke-width="2"/>
<path d="M906.5 991 C940 1005 990 1010 1035 1010 C1085 1010 1135 1004 1167.5 990" fill="none" stroke="#f6b8a9" stroke-width="2" transform="translate(0,3)" opacity="0.7"/>
<ellipse cx="978" cy="1003" rx="18" ry="6" fill="url(#pLsp)"/>
<ellipse cx="1092" cy="1001" rx="18" ry="6" fill="url(#pLsp)"/>
<path d="M775 860 C755 875 742 895 742 915 C742 940 752 958 775 968 C800 975 850 977 912 976 L960 900 L952 812 C925 805 895 797 862 800 C830 805 795 830 775 860 Z M854 800 C856 792 876 790 880 798 Z" fill="url(#pLk)"/>
<path d="M966 489 L1100 510 C1102.2 511.3 1109.3 515.2 1113.0 518.0 C1116.7 520.8 1119.2 523.7 1122.0 527.0 C1124.8 530.3 1127.2 533.2 1130.0 538.0 C1132.8 542.8 1136.2 549.5 1139.0 556.0 C1141.8 562.5 1144.7 570.3 1147.0 577.0 C1149.3 583.7 1151.3 589.7 1153.0 596.0 C1154.7 602.3 1156.2 608.7 1157.0 615.0 C1157.8 621.3 1157.9 627.7 1158.0 634.0 C1158.1 640.3 1157.8 646.7 1157.5 653.0 C1157.2 659.3 1156.8 665.5 1156.5 672.0 C1156.2 678.5 1156.4 685.5 1156.0 692.0 C1155.6 698.5 1154.8 704.7 1154.0 711.0 C1153.2 717.3 1152.0 723.7 1151.0 730.0 C1150.0 736.3 1149.2 742.7 1148.0 749.0 C1146.8 755.3 1145.2 761.7 1144.0 768.0 C1142.8 774.3 1141.5 780.6 1140.5 787.0 C1139.5 793.4 1138.8 800.0 1138.0 806.5 C1137.2 813.0 1136.1 819.6 1135.5 826.0 C1134.9 832.4 1134.5 838.7 1134.5 845.0 C1134.5 851.3 1135.0 857.7 1135.5 864.0 C1136.0 870.3 1136.8 876.7 1137.5 883.0 C1138.2 889.3 1139.1 895.6 1140.0 902.0 C1140.9 908.4 1141.8 916.0 1143.0 921.5 C1144.2 927.0 1145.8 930.1 1147.0 935.0 C1148.2 939.9 1149.5 948.3 1150.0 951.0 C1143.3 952.7 1129.2 958.0 1110.0 961.0 C1090.8 964.0 1060.0 966.7 1035.0 968.7 C1010.0 970.7 981.0 971.8 960.0 973.0 C939.0 974.2 917.5 975.5 909.0 976.0 C908.3 970.8 904.5 956.8 905.0 945.0 C905.5 933.2 908.2 920.8 912.0 905.0 C915.8 889.2 921.7 866.2 928.0 850.0 C934.3 833.8 946.5 820.8 950.0 808.0 C953.5 795.2 949.5 786.0 948.7 773.0 C948.0 760.0 946.6 744.3 945.5 730.0 C944.4 715.7 943.4 701.5 942.3 687.0 C941.2 672.5 939.9 654.7 939.0 643.0 C938.1 631.3 937.1 625.7 936.8 617.0 C936.5 608.3 936.7 599.2 937.3 591.0 C937.9 582.8 939.1 575.8 940.6 567.5 C942.1 559.2 944.0 549.4 946.0 541.5 C948.0 533.6 950.3 526.1 952.5 520.0 C954.7 513.9 956.8 510.2 959.0 505.0 C961.2 499.8 964.8 491.7 966.0 489.0 Z" fill="url(#pLb)"/>
<path d="M909 976 C945 974 990 971.5 1035 968.7 C1060 967 1110 961 1150 951" fill="none" stroke="#d9897b" stroke-width="2.2"/>
<clipPath id="pLclip"><path d="M966 489 L1100 510 C1102.2 511.3 1109.3 515.2 1113.0 518.0 C1116.7 520.8 1119.2 523.7 1122.0 527.0 C1124.8 530.3 1127.2 533.2 1130.0 538.0 C1132.8 542.8 1136.2 549.5 1139.0 556.0 C1141.8 562.5 1144.7 570.3 1147.0 577.0 C1149.3 583.7 1151.3 589.7 1153.0 596.0 C1154.7 602.3 1156.2 608.7 1157.0 615.0 C1157.8 621.3 1157.9 627.7 1158.0 634.0 C1158.1 640.3 1157.8 646.7 1157.5 653.0 C1157.2 659.3 1156.8 665.5 1156.5 672.0 C1156.2 678.5 1156.4 685.5 1156.0 692.0 C1155.6 698.5 1154.8 704.7 1154.0 711.0 C1153.2 717.3 1152.0 723.7 1151.0 730.0 C1150.0 736.3 1149.2 742.7 1148.0 749.0 C1146.8 755.3 1145.2 761.7 1144.0 768.0 C1142.8 774.3 1141.5 780.6 1140.5 787.0 C1139.5 793.4 1138.8 800.0 1138.0 806.5 C1137.2 813.0 1136.1 819.6 1135.5 826.0 C1134.9 832.4 1134.5 838.7 1134.5 845.0 C1134.5 851.3 1135.0 857.7 1135.5 864.0 C1136.0 870.3 1136.8 876.7 1137.5 883.0 C1138.2 889.3 1139.1 895.6 1140.0 902.0 C1140.9 908.4 1141.8 916.0 1143.0 921.5 C1144.2 927.0 1145.8 930.1 1147.0 935.0 C1148.2 939.9 1149.5 948.3 1150.0 951.0 C1143.3 952.7 1129.2 958.0 1110.0 961.0 C1090.8 964.0 1060.0 966.7 1035.0 968.7 C1010.0 970.7 981.0 971.8 960.0 973.0 C939.0 974.2 917.5 975.5 909.0 976.0 C908.3 970.8 904.5 956.8 905.0 945.0 C905.5 933.2 908.2 920.8 912.0 905.0 C915.8 889.2 921.7 866.2 928.0 850.0 C934.3 833.8 946.5 820.8 950.0 808.0 C953.5 795.2 949.5 786.0 948.7 773.0 C948.0 760.0 946.6 744.3 945.5 730.0 C944.4 715.7 943.4 701.5 942.3 687.0 C941.2 672.5 939.9 654.7 939.0 643.0 C938.1 631.3 937.1 625.7 936.8 617.0 C936.5 608.3 936.7 599.2 937.3 591.0 C937.9 582.8 939.1 575.8 940.6 567.5 C942.1 559.2 944.0 549.4 946.0 541.5 C948.0 533.6 950.3 526.1 952.5 520.0 C954.7 513.9 956.8 510.2 959.0 505.0 C961.2 499.8 964.8 491.7 966.0 489.0 Z"/></clipPath><g clip-path="url(#pLclip)">
<ellipse cx="990" cy="560" rx="70" ry="60" fill="url(#pLhl)"/>
<g fill="none" stroke="#e49e92"><path d="M948.0 503.7 C953.3 505.2 969.3 510.0 980.0 513.0 C990.7 516.1 1001.2 520.6 1012.0 521.9 C1022.8 523.3 1034.0 521.6 1045.0 521.1 C1056.0 520.6 1067.2 520.4 1078.0 519.0 C1088.8 517.6 1099.7 515.9 1110.0 512.8 C1120.3 509.7 1130.8 502.7 1140.0 500.2 C1149.2 497.8 1160.8 498.4 1165.0 498.1" transform="translate(0,3.9)" stroke-width="2.1" opacity="0.38"/><path d="M946.5 512.2 C952.1 513.8 969.1 519.8 980.0 522.2 C990.9 524.7 1001.2 525.1 1012.0 527.1 C1022.8 529.2 1034.0 533.8 1045.0 534.5 C1056.0 535.2 1067.2 533.7 1078.0 531.3 C1088.8 528.9 1099.7 522.4 1110.0 520.0 C1120.3 517.6 1130.8 518.1 1140.0 516.8 C1149.2 515.5 1160.8 513.0 1165.0 512.3" transform="translate(0,3.9)" stroke-width="2.2" opacity="0.34"/><path d="M945.0 526.6 C950.8 527.9 968.8 531.3 980.0 534.2 C991.2 537.2 1001.2 542.7 1012.0 544.2 C1022.8 545.7 1034.0 543.7 1045.0 543.3 C1056.0 542.9 1067.2 543.1 1078.0 541.8 C1088.8 540.5 1099.7 538.3 1110.0 535.4 C1120.3 532.4 1130.8 526.2 1140.0 524.1 C1149.2 522.0 1160.8 523.0 1165.0 522.7" transform="translate(0,3.5)" stroke-width="1.9" opacity="0.39"/><path d="M943.5 538.1 C949.6 539.7 968.6 545.1 980.0 547.6 C991.4 550.1 1001.2 551.5 1012.0 553.0 C1022.8 554.5 1034.0 556.5 1045.0 556.5 C1056.0 556.4 1067.2 554.6 1078.0 552.7 C1088.8 550.7 1099.7 546.8 1110.0 544.6 C1120.3 542.5 1130.8 541.4 1140.0 539.9 C1149.2 538.4 1160.8 536.2 1165.0 535.5" transform="translate(0,4.3)" stroke-width="2.5" opacity="0.36"/><path d="M942.0 549.7 C948.3 551.0 968.3 555.3 980.0 557.7 C991.7 560.2 1001.2 563.2 1012.0 564.5 C1022.8 565.8 1034.0 564.8 1045.0 565.3 C1056.0 565.9 1067.2 569.0 1078.0 567.8 C1088.8 566.7 1099.7 561.1 1110.0 558.5 C1120.3 555.8 1130.8 554.2 1140.0 551.9 C1149.2 549.5 1160.8 545.5 1165.0 544.2" transform="translate(0,4.5)" stroke-width="2.6" opacity="0.39"/><path d="M940.5 562.5 C947.1 564.2 968.1 569.0 980.0 572.6 C991.9 576.1 1001.2 582.1 1012.0 583.8 C1022.8 585.6 1034.0 583.1 1045.0 583.1 C1056.0 583.2 1067.2 585.9 1078.0 584.3 C1088.8 582.7 1099.7 577.3 1110.0 573.5 C1120.3 569.7 1130.8 563.5 1140.0 561.4 C1149.2 559.3 1160.8 561.0 1165.0 560.9" transform="translate(0,4.2)" stroke-width="2.4" opacity="0.27"/><path d="M939.0 571.1 C945.8 572.8 967.8 577.9 980.0 581.4 C992.2 585.0 1001.2 590.3 1012.0 592.2 C1022.8 594.2 1034.0 594.1 1045.0 593.2 C1056.0 592.2 1067.2 588.4 1078.0 586.3 C1088.8 584.2 1099.7 583.2 1110.0 580.4 C1120.3 577.6 1130.8 572.2 1140.0 569.6 C1149.2 567.1 1160.8 565.7 1165.0 564.9" transform="translate(0,4.2)" stroke-width="2.4" opacity="0.25"/><path d="M937.5 588.4 C944.6 589.7 967.6 594.2 980.0 596.3 C992.4 598.3 1001.2 599.0 1012.0 600.8 C1022.8 602.6 1034.0 607.0 1045.0 607.0 C1056.0 606.9 1067.2 602.0 1078.0 600.4 C1088.8 598.7 1099.7 600.0 1110.0 597.2 C1120.3 594.4 1130.8 586.4 1140.0 583.7 C1149.2 581.1 1160.8 581.8 1165.0 581.4" transform="translate(0,3.0)" stroke-width="1.5" opacity="0.27"/><path d="M936.0 603.3 C943.3 604.5 967.3 609.0 980.0 610.7 C992.7 612.5 1001.2 612.1 1012.0 613.6 C1022.8 615.2 1034.0 620.2 1045.0 620.0 C1056.0 619.9 1067.2 615.0 1078.0 612.9 C1088.8 610.8 1099.7 609.4 1110.0 607.4 C1120.3 605.4 1130.8 603.0 1140.0 600.9 C1149.2 598.8 1160.8 596.0 1165.0 595.0" transform="translate(0,2.8)" stroke-width="1.4" opacity="0.42"/></g>
<g fill="none" stroke="#f7c7b8"><path d="M948.0 503.7 C953.3 505.2 969.3 510.0 980.0 513.0 C990.7 516.1 1001.2 520.6 1012.0 521.9 C1022.8 523.3 1034.0 521.6 1045.0 521.1 C1056.0 520.6 1067.2 520.4 1078.0 519.0 C1088.8 517.6 1099.7 515.9 1110.0 512.8 C1120.3 509.7 1130.8 502.7 1140.0 500.2 C1149.2 497.8 1160.8 498.4 1165.0 498.1" stroke-width="3.6" opacity="0.54"/><path d="M946.5 512.2 C952.1 513.8 969.1 519.8 980.0 522.2 C990.9 524.7 1001.2 525.1 1012.0 527.1 C1022.8 529.2 1034.0 533.8 1045.0 534.5 C1056.0 535.2 1067.2 533.7 1078.0 531.3 C1088.8 528.9 1099.7 522.4 1110.0 520.0 C1120.3 517.6 1130.8 518.1 1140.0 516.8 C1149.2 515.5 1160.8 513.0 1165.0 512.3" stroke-width="3.6" opacity="0.48"/><path d="M945.0 526.6 C950.8 527.9 968.8 531.3 980.0 534.2 C991.2 537.2 1001.2 542.7 1012.0 544.2 C1022.8 545.7 1034.0 543.7 1045.0 543.3 C1056.0 542.9 1067.2 543.1 1078.0 541.8 C1088.8 540.5 1099.7 538.3 1110.0 535.4 C1120.3 532.4 1130.8 526.2 1140.0 524.1 C1149.2 522.0 1160.8 523.0 1165.0 522.7" stroke-width="3.1" opacity="0.55"/><path d="M943.5 538.1 C949.6 539.7 968.6 545.1 980.0 547.6 C991.4 550.1 1001.2 551.5 1012.0 553.0 C1022.8 554.5 1034.0 556.5 1045.0 556.5 C1056.0 556.4 1067.2 554.6 1078.0 552.7 C1088.8 550.7 1099.7 546.8 1110.0 544.6 C1120.3 542.5 1130.8 541.4 1140.0 539.9 C1149.2 538.4 1160.8 536.2 1165.0 535.5" stroke-width="4.1" opacity="0.51"/><path d="M942.0 549.7 C948.3 551.0 968.3 555.3 980.0 557.7 C991.7 560.2 1001.2 563.2 1012.0 564.5 C1022.8 565.8 1034.0 564.8 1045.0 565.3 C1056.0 565.9 1067.2 569.0 1078.0 567.8 C1088.8 566.7 1099.7 561.1 1110.0 558.5 C1120.3 555.8 1130.8 554.2 1140.0 551.9 C1149.2 549.5 1160.8 545.5 1165.0 544.2" stroke-width="4.4" opacity="0.55"/><path d="M940.5 562.5 C947.1 564.2 968.1 569.0 980.0 572.6 C991.9 576.1 1001.2 582.1 1012.0 583.8 C1022.8 585.6 1034.0 583.1 1045.0 583.1 C1056.0 583.2 1067.2 585.9 1078.0 584.3 C1088.8 582.7 1099.7 577.3 1110.0 573.5 C1120.3 569.7 1130.8 563.5 1140.0 561.4 C1149.2 559.3 1160.8 561.0 1165.0 560.9" stroke-width="3.9" opacity="0.38"/><path d="M939.0 571.1 C945.8 572.8 967.8 577.9 980.0 581.4 C992.2 585.0 1001.2 590.3 1012.0 592.2 C1022.8 594.2 1034.0 594.1 1045.0 593.2 C1056.0 592.2 1067.2 588.4 1078.0 586.3 C1088.8 584.2 1099.7 583.2 1110.0 580.4 C1120.3 577.6 1130.8 572.2 1140.0 569.6 C1149.2 567.1 1160.8 565.7 1165.0 564.9" stroke-width="4.0" opacity="0.35"/><path d="M937.5 588.4 C944.6 589.7 967.6 594.2 980.0 596.3 C992.4 598.3 1001.2 599.0 1012.0 600.8 C1022.8 602.6 1034.0 607.0 1045.0 607.0 C1056.0 606.9 1067.2 602.0 1078.0 600.4 C1088.8 598.7 1099.7 600.0 1110.0 597.2 C1120.3 594.4 1130.8 586.4 1140.0 583.7 C1149.2 581.1 1160.8 581.8 1165.0 581.4" stroke-width="2.5" opacity="0.38"/><path d="M936.0 603.3 C943.3 604.5 967.3 609.0 980.0 610.7 C992.7 612.5 1001.2 612.1 1012.0 613.6 C1022.8 615.2 1034.0 620.2 1045.0 620.0 C1056.0 619.9 1067.2 615.0 1078.0 612.9 C1088.8 610.8 1099.7 609.4 1110.0 607.4 C1120.3 605.4 1130.8 603.0 1140.0 600.9 C1149.2 598.8 1160.8 596.0 1165.0 595.0" stroke-width="2.3" opacity="0.60"/></g>
<g fill="none" stroke="#dd9587" stroke-width="6.5" stroke-linecap="round" stroke-linejoin="round" opacity="0.35"><path d="M998.0 612.0 C998.4 613.0 999.7 615.8 1000.2 617.8 C1000.6 619.8 1000.2 622.0 1000.5 624.0 C1000.9 626.1 1002.1 627.9 1002.4 630.0 C1002.7 632.0 1002.2 634.2 1002.3 636.3 C1002.4 638.4 1002.4 640.5 1002.9 642.6 C1003.4 644.6 1004.6 646.2 1005.3 648.5 C1006.1 650.7 1007.2 653.5 1007.4 656.0 C1007.7 658.5 1007.0 661.2 1006.8 663.6 C1006.6 666.1 1006.5 668.5 1006.0 670.7 C1005.4 673.0 1004.8 675.1 1003.5 677.2 C1002.3 679.2 999.3 681.1 998.6 683.1 C998.0 685.2 999.8 687.5 999.7 689.7 C999.5 691.8 998.1 693.8 997.9 695.9 C997.6 698.0 997.8 700.3 998.4 702.4 C998.9 704.4 999.9 706.5 1001.1 708.4 C1002.3 710.2 1004.6 711.5 1005.6 713.4 C1006.7 715.3 1006.7 717.9 1007.4 719.9 C1008.2 721.9 1008.9 723.8 1010.0 725.4 C1011.1 727.1 1013.0 728.3 1014.1 729.9 C1015.2 731.6 1015.9 733.0 1016.7 735.2 C1017.4 737.3 1017.8 740.3 1018.8 742.8 C1019.8 745.2 1022.0 747.6 1022.6 749.9 C1023.2 752.1 1022.0 754.3 1022.4 756.3 C1022.7 758.3 1024.7 759.5 1024.7 761.7 C1024.8 763.9 1023.4 767.0 1022.7 769.7 C1022.1 772.4 1021.9 775.9 1020.6 778.0 C1019.2 780.1 1016.0 780.5 1014.5 782.3 C1013.1 784.1 1013.4 787.0 1011.8 788.8 C1010.1 790.5 1006.9 791.5 1004.6 792.9 C1002.3 794.3 1000.4 796.0 998.0 797.1 C995.7 798.2 993.0 798.9 990.5 799.5 C988.0 800.1 985.8 800.3 983.1 800.7 C980.4 801.0 977.1 801.7 974.3 801.4 C971.5 801.2 968.7 800.2 966.2 799.4 C963.6 798.5 961.2 797.6 958.9 796.5 C956.6 795.4 953.4 793.2 952.3 792.5" transform="translate(1.3,1.8)"/><path d="M1007.8 664.0 C1009.0 664.9 1012.8 667.4 1015.1 669.2 C1017.4 670.9 1019.6 672.9 1021.8 674.4 C1024.0 675.9 1025.9 677.1 1028.1 678.1 C1030.4 679.1 1032.9 679.2 1035.4 680.4 C1037.8 681.7 1040.2 684.2 1042.6 685.7 C1045.1 687.1 1048.8 688.4 1050.0 689.0" transform="translate(1.3,1.8)"/><path d="M1025.0 758.0 C1026.0 757.6 1029.0 756.5 1030.9 755.8 C1032.9 755.1 1034.9 754.3 1036.8 753.6 C1038.8 752.8 1040.4 752.1 1042.7 751.1 C1045.0 750.2 1048.1 749.0 1050.6 747.8 C1053.1 746.5 1054.5 744.1 1057.7 743.5 C1060.9 742.8 1066.8 744.8 1069.7 743.9 C1072.7 743.1 1073.2 739.6 1075.3 738.5 C1077.4 737.3 1079.5 738.0 1082.5 736.9 C1085.6 735.8 1091.5 733.5 1093.5 731.6 C1095.5 729.8 1094.0 727.7 1094.6 725.6 C1095.1 723.5 1097.6 720.6 1097.0 718.9 C1096.4 717.2 1092.6 717.1 1091.2 715.6 C1089.7 714.1 1089.0 712.0 1088.2 710.0 C1087.4 708.0 1086.8 705.7 1086.5 703.5 C1086.3 701.2 1086.8 699.4 1086.5 696.7 C1086.2 693.9 1085.5 689.8 1084.7 687.0 C1083.9 684.1 1082.3 682.2 1081.7 679.8 C1081.1 677.3 1081.3 674.8 1081.1 672.1 C1080.9 669.4 1080.5 666.4 1080.3 663.6 C1080.1 660.7 1080.0 656.4 1080.0 655.0" transform="translate(1.3,1.8)"/><path d="M1096.0 719.7 C1097.0 719.2 1100.3 717.7 1102.3 716.6 C1104.2 715.5 1105.6 714.1 1107.7 713.0 C1109.9 711.9 1112.6 711.0 1115.1 710.1 C1117.6 709.1 1120.2 708.2 1122.7 707.4 C1125.2 706.7 1127.8 705.8 1130.3 705.7 C1132.8 705.5 1135.3 705.7 1137.9 706.7 C1140.5 707.8 1144.6 711.1 1145.9 712.0" transform="translate(1.3,1.8)"/><path d="M1019.3 777.2 C1019.4 779.1 1019.0 785.5 1019.8 788.4 C1020.6 791.3 1023.0 792.5 1024.1 794.8 C1025.2 797.1 1025.2 799.4 1026.6 802.2 C1027.9 804.9 1031.1 808.6 1032.1 811.3 C1033.1 814.0 1032.3 816.1 1032.8 818.4 C1033.3 820.7 1034.6 823.9 1035.0 825.0" transform="translate(1.3,1.8)"/><path d="M963.8 629.6 C964.5 631.1 967.4 636.0 968.4 638.8 C969.3 641.6 968.4 644.1 969.5 646.2 C970.6 648.3 973.9 649.3 975.1 651.4 C976.3 653.5 975.4 656.3 976.6 658.6 C977.8 660.9 980.7 663.0 982.2 665.4 C983.7 667.8 984.6 670.8 985.4 673.2 C986.3 675.5 986.1 677.9 987.4 679.5 C988.7 681.1 991.0 680.9 993.1 682.6 C995.2 684.4 998.9 688.8 1000.0 690.0" transform="translate(1.3,1.8)"/><path d="M966.0 578.0 C965.9 579.2 965.4 582.9 965.1 585.3 C964.9 587.8 964.6 590.3 964.4 592.7 C964.2 595.2 964.6 597.5 964.2 600.0 C963.8 602.4 961.9 605.0 962.0 607.4 C962.1 609.9 964.7 612.3 965.0 614.8 C965.2 617.2 963.8 619.7 963.6 622.2 C963.4 624.7 963.7 628.4 963.8 629.6" transform="translate(1.3,1.8)"/><path d="M992.0 572.0 C992.2 573.0 992.9 576.1 993.4 578.1 C994.0 580.1 995.0 581.9 995.6 583.9 C996.1 585.9 996.3 587.8 996.8 590.0 C997.2 592.2 998.3 594.8 998.3 597.3 C998.3 599.7 996.7 602.3 996.7 604.7 C996.6 607.2 997.8 610.8 998.0 612.0" transform="translate(1.3,1.8)"/><path d="M1070.0 790.0 C1071.0 790.6 1074.1 792.2 1076.1 793.4 C1078.1 794.6 1080.0 795.8 1081.9 797.2 C1083.8 798.5 1085.3 800.5 1087.3 801.7 C1089.3 802.8 1092.7 802.6 1094.1 804.0 C1095.5 805.3 1095.4 807.9 1096.0 809.8 C1096.6 811.7 1098.4 813.1 1097.8 815.3 C1097.1 817.6 1093.1 821.9 1092.2 823.2" transform="translate(1.3,1.8)"/><path d="M1094.0 804.0 C1095.0 804.2 1098.0 804.5 1100.0 804.9 C1102.0 805.3 1103.9 806.1 1105.9 806.5 C1107.9 806.9 1109.9 807.3 1111.9 807.5 C1113.9 807.8 1117.0 807.9 1118.0 808.0" transform="translate(1.3,1.8)"/><path d="M1145.9 664.0 C1145.5 665.2 1144.7 668.9 1143.7 671.3 C1142.6 673.7 1139.9 676.0 1139.4 678.1 C1139.0 680.3 1140.3 682.2 1140.9 684.1 C1141.5 686.1 1142.7 689.0 1143.0 690.0" transform="translate(1.3,1.8)"/><path d="M1136.3 765.7 C1135.7 766.9 1134.3 770.5 1132.7 772.6 C1131.0 774.7 1127.3 776.1 1126.4 778.1 C1125.4 780.0 1126.7 782.0 1127.0 784.0 C1127.3 786.0 1127.8 789.0 1128.0 790.0" transform="translate(1.3,1.8)"/><path d="M952.0 808.0 C953.0 808.8 955.6 811.9 957.8 812.8 C960.0 813.7 962.9 812.8 965.2 813.5 C967.5 814.1 969.3 816.3 971.6 816.7 C973.8 817.2 976.2 815.5 978.5 815.9 C980.8 816.4 983.0 819.6 985.2 819.5 C987.3 819.5 989.3 816.1 991.5 815.8 C993.7 815.5 996.2 817.7 998.5 817.9 C1000.7 818.0 1002.8 816.8 1005.1 816.6 C1007.3 816.3 1009.5 816.5 1011.8 816.5 C1014.0 816.4 1016.2 816.8 1018.5 816.3 C1020.7 815.7 1023.1 813.2 1025.3 813.2 C1027.5 813.2 1029.7 815.1 1031.9 816.2 C1034.0 817.3 1035.9 819.1 1038.1 820.0 C1040.3 820.8 1042.7 821.2 1044.9 821.3 C1047.2 821.4 1049.4 820.8 1051.6 820.6 C1053.8 820.3 1056.0 819.9 1058.2 819.8 C1060.5 819.7 1063.9 820.0 1065.0 820.0" transform="translate(1.3,1.8)"/><path d="M985.0 850.0 C986.1 850.2 989.3 850.7 991.4 851.3 C993.5 851.9 995.4 852.8 997.5 853.4 C999.6 854.1 1001.7 854.4 1003.8 855.0 C1005.9 855.6 1008.0 856.2 1010.1 856.8 C1012.1 857.5 1014.3 858.0 1016.3 858.7 C1018.4 859.5 1020.2 860.9 1022.3 861.5 C1024.5 862.1 1026.9 861.6 1029.0 862.3 C1031.1 862.9 1032.7 864.8 1034.9 865.4 C1037.1 866.0 1039.9 865.2 1042.2 865.9 C1044.5 866.5 1046.4 868.1 1048.5 869.1 C1050.7 870.0 1052.9 870.9 1055.2 871.5 C1057.4 872.1 1059.8 872.0 1062.0 872.9 C1064.2 873.8 1065.9 875.9 1068.1 876.7 C1070.3 877.6 1073.9 877.8 1075.0 878.0" transform="translate(1.3,1.8)"/><path d="M1090.0 860.0 C1090.5 861.3 1092.1 865.0 1092.9 867.5 C1093.8 870.0 1094.9 872.4 1095.0 874.9 C1095.1 877.3 1093.6 879.8 1093.5 882.3 C1093.5 884.8 1094.0 887.1 1094.6 889.7 C1095.2 892.3 1096.0 895.3 1097.2 897.9 C1098.5 900.5 1101.2 903.8 1102.0 905.0" transform="translate(1.3,1.8)"/><path d="M1040.0 598.0 C1040.7 599.1 1043.0 602.3 1043.9 604.6 C1044.9 606.9 1045.3 609.3 1045.5 611.9 C1045.7 614.5 1045.3 617.5 1045.0 620.1 C1044.8 622.7 1043.8 625.3 1043.9 627.6 C1044.0 629.9 1044.8 631.9 1045.5 634.0 C1046.2 636.0 1047.6 639.0 1048.0 640.0" transform="translate(1.3,1.8)"/><path d="M1110.0 620.0 C1110.6 621.4 1112.3 625.6 1113.5 628.3 C1114.7 630.9 1116.7 633.3 1117.1 635.7 C1117.5 638.2 1116.5 640.6 1115.9 643.0 C1115.4 645.4 1114.3 648.8 1114.0 650.0" transform="translate(1.3,1.8)"/><path d="M960.0 700.0 C960.1 701.2 960.2 704.8 960.8 707.0 C961.3 709.3 962.7 711.4 963.4 713.5 C964.2 715.6 965.2 717.7 965.2 719.8 C965.2 722.0 963.6 724.1 963.4 726.4 C963.2 728.7 964.4 731.2 964.1 733.5 C963.8 735.8 961.8 737.9 961.6 740.1 C961.4 742.4 962.2 744.8 962.8 747.0 C963.3 749.3 964.0 751.5 964.9 753.7 C965.7 755.8 967.5 758.9 968.0 760.0" transform="translate(1.3,1.8)"/></g>
<g fill="none" stroke="#f8cdbd" stroke-width="5.2" stroke-linecap="round" stroke-linejoin="round" opacity="0.8"><path d="M998.0 612.0 C998.4 613.0 999.7 615.8 1000.2 617.8 C1000.6 619.8 1000.2 622.0 1000.5 624.0 C1000.9 626.1 1002.1 627.9 1002.4 630.0 C1002.7 632.0 1002.2 634.2 1002.3 636.3 C1002.4 638.4 1002.4 640.5 1002.9 642.6 C1003.4 644.6 1004.6 646.2 1005.3 648.5 C1006.1 650.7 1007.2 653.5 1007.4 656.0 C1007.7 658.5 1007.0 661.2 1006.8 663.6 C1006.6 666.1 1006.5 668.5 1006.0 670.7 C1005.4 673.0 1004.8 675.1 1003.5 677.2 C1002.3 679.2 999.3 681.1 998.6 683.1 C998.0 685.2 999.8 687.5 999.7 689.7 C999.5 691.8 998.1 693.8 997.9 695.9 C997.6 698.0 997.8 700.3 998.4 702.4 C998.9 704.4 999.9 706.5 1001.1 708.4 C1002.3 710.2 1004.6 711.5 1005.6 713.4 C1006.7 715.3 1006.7 717.9 1007.4 719.9 C1008.2 721.9 1008.9 723.8 1010.0 725.4 C1011.1 727.1 1013.0 728.3 1014.1 729.9 C1015.2 731.6 1015.9 733.0 1016.7 735.2 C1017.4 737.3 1017.8 740.3 1018.8 742.8 C1019.8 745.2 1022.0 747.6 1022.6 749.9 C1023.2 752.1 1022.0 754.3 1022.4 756.3 C1022.7 758.3 1024.7 759.5 1024.7 761.7 C1024.8 763.9 1023.4 767.0 1022.7 769.7 C1022.1 772.4 1021.9 775.9 1020.6 778.0 C1019.2 780.1 1016.0 780.5 1014.5 782.3 C1013.1 784.1 1013.4 787.0 1011.8 788.8 C1010.1 790.5 1006.9 791.5 1004.6 792.9 C1002.3 794.3 1000.4 796.0 998.0 797.1 C995.7 798.2 993.0 798.9 990.5 799.5 C988.0 800.1 985.8 800.3 983.1 800.7 C980.4 801.0 977.1 801.7 974.3 801.4 C971.5 801.2 968.7 800.2 966.2 799.4 C963.6 798.5 961.2 797.6 958.9 796.5 C956.6 795.4 953.4 793.2 952.3 792.5"/><path d="M1007.8 664.0 C1009.0 664.9 1012.8 667.4 1015.1 669.2 C1017.4 670.9 1019.6 672.9 1021.8 674.4 C1024.0 675.9 1025.9 677.1 1028.1 678.1 C1030.4 679.1 1032.9 679.2 1035.4 680.4 C1037.8 681.7 1040.2 684.2 1042.6 685.7 C1045.1 687.1 1048.8 688.4 1050.0 689.0"/><path d="M1025.0 758.0 C1026.0 757.6 1029.0 756.5 1030.9 755.8 C1032.9 755.1 1034.9 754.3 1036.8 753.6 C1038.8 752.8 1040.4 752.1 1042.7 751.1 C1045.0 750.2 1048.1 749.0 1050.6 747.8 C1053.1 746.5 1054.5 744.1 1057.7 743.5 C1060.9 742.8 1066.8 744.8 1069.7 743.9 C1072.7 743.1 1073.2 739.6 1075.3 738.5 C1077.4 737.3 1079.5 738.0 1082.5 736.9 C1085.6 735.8 1091.5 733.5 1093.5 731.6 C1095.5 729.8 1094.0 727.7 1094.6 725.6 C1095.1 723.5 1097.6 720.6 1097.0 718.9 C1096.4 717.2 1092.6 717.1 1091.2 715.6 C1089.7 714.1 1089.0 712.0 1088.2 710.0 C1087.4 708.0 1086.8 705.7 1086.5 703.5 C1086.3 701.2 1086.8 699.4 1086.5 696.7 C1086.2 693.9 1085.5 689.8 1084.7 687.0 C1083.9 684.1 1082.3 682.2 1081.7 679.8 C1081.1 677.3 1081.3 674.8 1081.1 672.1 C1080.9 669.4 1080.5 666.4 1080.3 663.6 C1080.1 660.7 1080.0 656.4 1080.0 655.0"/><path d="M1096.0 719.7 C1097.0 719.2 1100.3 717.7 1102.3 716.6 C1104.2 715.5 1105.6 714.1 1107.7 713.0 C1109.9 711.9 1112.6 711.0 1115.1 710.1 C1117.6 709.1 1120.2 708.2 1122.7 707.4 C1125.2 706.7 1127.8 705.8 1130.3 705.7 C1132.8 705.5 1135.3 705.7 1137.9 706.7 C1140.5 707.8 1144.6 711.1 1145.9 712.0"/><path d="M1019.3 777.2 C1019.4 779.1 1019.0 785.5 1019.8 788.4 C1020.6 791.3 1023.0 792.5 1024.1 794.8 C1025.2 797.1 1025.2 799.4 1026.6 802.2 C1027.9 804.9 1031.1 808.6 1032.1 811.3 C1033.1 814.0 1032.3 816.1 1032.8 818.4 C1033.3 820.7 1034.6 823.9 1035.0 825.0"/><path d="M963.8 629.6 C964.5 631.1 967.4 636.0 968.4 638.8 C969.3 641.6 968.4 644.1 969.5 646.2 C970.6 648.3 973.9 649.3 975.1 651.4 C976.3 653.5 975.4 656.3 976.6 658.6 C977.8 660.9 980.7 663.0 982.2 665.4 C983.7 667.8 984.6 670.8 985.4 673.2 C986.3 675.5 986.1 677.9 987.4 679.5 C988.7 681.1 991.0 680.9 993.1 682.6 C995.2 684.4 998.9 688.8 1000.0 690.0"/><path d="M966.0 578.0 C965.9 579.2 965.4 582.9 965.1 585.3 C964.9 587.8 964.6 590.3 964.4 592.7 C964.2 595.2 964.6 597.5 964.2 600.0 C963.8 602.4 961.9 605.0 962.0 607.4 C962.1 609.9 964.7 612.3 965.0 614.8 C965.2 617.2 963.8 619.7 963.6 622.2 C963.4 624.7 963.7 628.4 963.8 629.6"/><path d="M992.0 572.0 C992.2 573.0 992.9 576.1 993.4 578.1 C994.0 580.1 995.0 581.9 995.6 583.9 C996.1 585.9 996.3 587.8 996.8 590.0 C997.2 592.2 998.3 594.8 998.3 597.3 C998.3 599.7 996.7 602.3 996.7 604.7 C996.6 607.2 997.8 610.8 998.0 612.0"/><path d="M1070.0 790.0 C1071.0 790.6 1074.1 792.2 1076.1 793.4 C1078.1 794.6 1080.0 795.8 1081.9 797.2 C1083.8 798.5 1085.3 800.5 1087.3 801.7 C1089.3 802.8 1092.7 802.6 1094.1 804.0 C1095.5 805.3 1095.4 807.9 1096.0 809.8 C1096.6 811.7 1098.4 813.1 1097.8 815.3 C1097.1 817.6 1093.1 821.9 1092.2 823.2"/><path d="M1094.0 804.0 C1095.0 804.2 1098.0 804.5 1100.0 804.9 C1102.0 805.3 1103.9 806.1 1105.9 806.5 C1107.9 806.9 1109.9 807.3 1111.9 807.5 C1113.9 807.8 1117.0 807.9 1118.0 808.0"/><path d="M1145.9 664.0 C1145.5 665.2 1144.7 668.9 1143.7 671.3 C1142.6 673.7 1139.9 676.0 1139.4 678.1 C1139.0 680.3 1140.3 682.2 1140.9 684.1 C1141.5 686.1 1142.7 689.0 1143.0 690.0"/><path d="M1136.3 765.7 C1135.7 766.9 1134.3 770.5 1132.7 772.6 C1131.0 774.7 1127.3 776.1 1126.4 778.1 C1125.4 780.0 1126.7 782.0 1127.0 784.0 C1127.3 786.0 1127.8 789.0 1128.0 790.0"/><path d="M952.0 808.0 C953.0 808.8 955.6 811.9 957.8 812.8 C960.0 813.7 962.9 812.8 965.2 813.5 C967.5 814.1 969.3 816.3 971.6 816.7 C973.8 817.2 976.2 815.5 978.5 815.9 C980.8 816.4 983.0 819.6 985.2 819.5 C987.3 819.5 989.3 816.1 991.5 815.8 C993.7 815.5 996.2 817.7 998.5 817.9 C1000.7 818.0 1002.8 816.8 1005.1 816.6 C1007.3 816.3 1009.5 816.5 1011.8 816.5 C1014.0 816.4 1016.2 816.8 1018.5 816.3 C1020.7 815.7 1023.1 813.2 1025.3 813.2 C1027.5 813.2 1029.7 815.1 1031.9 816.2 C1034.0 817.3 1035.9 819.1 1038.1 820.0 C1040.3 820.8 1042.7 821.2 1044.9 821.3 C1047.2 821.4 1049.4 820.8 1051.6 820.6 C1053.8 820.3 1056.0 819.9 1058.2 819.8 C1060.5 819.7 1063.9 820.0 1065.0 820.0"/><path d="M985.0 850.0 C986.1 850.2 989.3 850.7 991.4 851.3 C993.5 851.9 995.4 852.8 997.5 853.4 C999.6 854.1 1001.7 854.4 1003.8 855.0 C1005.9 855.6 1008.0 856.2 1010.1 856.8 C1012.1 857.5 1014.3 858.0 1016.3 858.7 C1018.4 859.5 1020.2 860.9 1022.3 861.5 C1024.5 862.1 1026.9 861.6 1029.0 862.3 C1031.1 862.9 1032.7 864.8 1034.9 865.4 C1037.1 866.0 1039.9 865.2 1042.2 865.9 C1044.5 866.5 1046.4 868.1 1048.5 869.1 C1050.7 870.0 1052.9 870.9 1055.2 871.5 C1057.4 872.1 1059.8 872.0 1062.0 872.9 C1064.2 873.8 1065.9 875.9 1068.1 876.7 C1070.3 877.6 1073.9 877.8 1075.0 878.0"/><path d="M1090.0 860.0 C1090.5 861.3 1092.1 865.0 1092.9 867.5 C1093.8 870.0 1094.9 872.4 1095.0 874.9 C1095.1 877.3 1093.6 879.8 1093.5 882.3 C1093.5 884.8 1094.0 887.1 1094.6 889.7 C1095.2 892.3 1096.0 895.3 1097.2 897.9 C1098.5 900.5 1101.2 903.8 1102.0 905.0"/><path d="M1040.0 598.0 C1040.7 599.1 1043.0 602.3 1043.9 604.6 C1044.9 606.9 1045.3 609.3 1045.5 611.9 C1045.7 614.5 1045.3 617.5 1045.0 620.1 C1044.8 622.7 1043.8 625.3 1043.9 627.6 C1044.0 629.9 1044.8 631.9 1045.5 634.0 C1046.2 636.0 1047.6 639.0 1048.0 640.0"/><path d="M1110.0 620.0 C1110.6 621.4 1112.3 625.6 1113.5 628.3 C1114.7 630.9 1116.7 633.3 1117.1 635.7 C1117.5 638.2 1116.5 640.6 1115.9 643.0 C1115.4 645.4 1114.3 648.8 1114.0 650.0"/><path d="M960.0 700.0 C960.1 701.2 960.2 704.8 960.8 707.0 C961.3 709.3 962.7 711.4 963.4 713.5 C964.2 715.6 965.2 717.7 965.2 719.8 C965.2 722.0 963.6 724.1 963.4 726.4 C963.2 728.7 964.4 731.2 964.1 733.5 C963.8 735.8 961.8 737.9 961.6 740.1 C961.4 742.4 962.2 744.8 962.8 747.0 C963.3 749.3 964.0 751.5 964.9 753.7 C965.7 755.8 967.5 758.9 968.0 760.0"/></g>
<g fill="none" stroke="#fde3d6" stroke-width="1.4" stroke-linecap="round" opacity="0.55"><path d="M998.0 612.0 C998.4 613.0 999.7 615.8 1000.2 617.8 C1000.6 619.8 1000.2 622.0 1000.5 624.0 C1000.9 626.1 1002.1 627.9 1002.4 630.0 C1002.7 632.0 1002.2 634.2 1002.3 636.3 C1002.4 638.4 1002.4 640.5 1002.9 642.6 C1003.4 644.6 1004.6 646.2 1005.3 648.5 C1006.1 650.7 1007.2 653.5 1007.4 656.0 C1007.7 658.5 1007.0 661.2 1006.8 663.6 C1006.6 666.1 1006.5 668.5 1006.0 670.7 C1005.4 673.0 1004.8 675.1 1003.5 677.2 C1002.3 679.2 999.3 681.1 998.6 683.1 C998.0 685.2 999.8 687.5 999.7 689.7 C999.5 691.8 998.1 693.8 997.9 695.9 C997.6 698.0 997.8 700.3 998.4 702.4 C998.9 704.4 999.9 706.5 1001.1 708.4 C1002.3 710.2 1004.6 711.5 1005.6 713.4 C1006.7 715.3 1006.7 717.9 1007.4 719.9 C1008.2 721.9 1008.9 723.8 1010.0 725.4 C1011.1 727.1 1013.0 728.3 1014.1 729.9 C1015.2 731.6 1015.9 733.0 1016.7 735.2 C1017.4 737.3 1017.8 740.3 1018.8 742.8 C1019.8 745.2 1022.0 747.6 1022.6 749.9 C1023.2 752.1 1022.0 754.3 1022.4 756.3 C1022.7 758.3 1024.7 759.5 1024.7 761.7 C1024.8 763.9 1023.4 767.0 1022.7 769.7 C1022.1 772.4 1021.9 775.9 1020.6 778.0 C1019.2 780.1 1016.0 780.5 1014.5 782.3 C1013.1 784.1 1013.4 787.0 1011.8 788.8 C1010.1 790.5 1006.9 791.5 1004.6 792.9 C1002.3 794.3 1000.4 796.0 998.0 797.1 C995.7 798.2 993.0 798.9 990.5 799.5 C988.0 800.1 985.8 800.3 983.1 800.7 C980.4 801.0 977.1 801.7 974.3 801.4 C971.5 801.2 968.7 800.2 966.2 799.4 C963.6 798.5 961.2 797.6 958.9 796.5 C956.6 795.4 953.4 793.2 952.3 792.5" transform="translate(-0.6,-0.8)"/><path d="M1007.8 664.0 C1009.0 664.9 1012.8 667.4 1015.1 669.2 C1017.4 670.9 1019.6 672.9 1021.8 674.4 C1024.0 675.9 1025.9 677.1 1028.1 678.1 C1030.4 679.1 1032.9 679.2 1035.4 680.4 C1037.8 681.7 1040.2 684.2 1042.6 685.7 C1045.1 687.1 1048.8 688.4 1050.0 689.0" transform="translate(-0.6,-0.8)"/><path d="M1025.0 758.0 C1026.0 757.6 1029.0 756.5 1030.9 755.8 C1032.9 755.1 1034.9 754.3 1036.8 753.6 C1038.8 752.8 1040.4 752.1 1042.7 751.1 C1045.0 750.2 1048.1 749.0 1050.6 747.8 C1053.1 746.5 1054.5 744.1 1057.7 743.5 C1060.9 742.8 1066.8 744.8 1069.7 743.9 C1072.7 743.1 1073.2 739.6 1075.3 738.5 C1077.4 737.3 1079.5 738.0 1082.5 736.9 C1085.6 735.8 1091.5 733.5 1093.5 731.6 C1095.5 729.8 1094.0 727.7 1094.6 725.6 C1095.1 723.5 1097.6 720.6 1097.0 718.9 C1096.4 717.2 1092.6 717.1 1091.2 715.6 C1089.7 714.1 1089.0 712.0 1088.2 710.0 C1087.4 708.0 1086.8 705.7 1086.5 703.5 C1086.3 701.2 1086.8 699.4 1086.5 696.7 C1086.2 693.9 1085.5 689.8 1084.7 687.0 C1083.9 684.1 1082.3 682.2 1081.7 679.8 C1081.1 677.3 1081.3 674.8 1081.1 672.1 C1080.9 669.4 1080.5 666.4 1080.3 663.6 C1080.1 660.7 1080.0 656.4 1080.0 655.0" transform="translate(-0.6,-0.8)"/><path d="M1096.0 719.7 C1097.0 719.2 1100.3 717.7 1102.3 716.6 C1104.2 715.5 1105.6 714.1 1107.7 713.0 C1109.9 711.9 1112.6 711.0 1115.1 710.1 C1117.6 709.1 1120.2 708.2 1122.7 707.4 C1125.2 706.7 1127.8 705.8 1130.3 705.7 C1132.8 705.5 1135.3 705.7 1137.9 706.7 C1140.5 707.8 1144.6 711.1 1145.9 712.0" transform="translate(-0.6,-0.8)"/><path d="M1019.3 777.2 C1019.4 779.1 1019.0 785.5 1019.8 788.4 C1020.6 791.3 1023.0 792.5 1024.1 794.8 C1025.2 797.1 1025.2 799.4 1026.6 802.2 C1027.9 804.9 1031.1 808.6 1032.1 811.3 C1033.1 814.0 1032.3 816.1 1032.8 818.4 C1033.3 820.7 1034.6 823.9 1035.0 825.0" transform="translate(-0.6,-0.8)"/><path d="M963.8 629.6 C964.5 631.1 967.4 636.0 968.4 638.8 C969.3 641.6 968.4 644.1 969.5 646.2 C970.6 648.3 973.9 649.3 975.1 651.4 C976.3 653.5 975.4 656.3 976.6 658.6 C977.8 660.9 980.7 663.0 982.2 665.4 C983.7 667.8 984.6 670.8 985.4 673.2 C986.3 675.5 986.1 677.9 987.4 679.5 C988.7 681.1 991.0 680.9 993.1 682.6 C995.2 684.4 998.9 688.8 1000.0 690.0" transform="translate(-0.6,-0.8)"/><path d="M966.0 578.0 C965.9 579.2 965.4 582.9 965.1 585.3 C964.9 587.8 964.6 590.3 964.4 592.7 C964.2 595.2 964.6 597.5 964.2 600.0 C963.8 602.4 961.9 605.0 962.0 607.4 C962.1 609.9 964.7 612.3 965.0 614.8 C965.2 617.2 963.8 619.7 963.6 622.2 C963.4 624.7 963.7 628.4 963.8 629.6" transform="translate(-0.6,-0.8)"/><path d="M992.0 572.0 C992.2 573.0 992.9 576.1 993.4 578.1 C994.0 580.1 995.0 581.9 995.6 583.9 C996.1 585.9 996.3 587.8 996.8 590.0 C997.2 592.2 998.3 594.8 998.3 597.3 C998.3 599.7 996.7 602.3 996.7 604.7 C996.6 607.2 997.8 610.8 998.0 612.0" transform="translate(-0.6,-0.8)"/><path d="M1070.0 790.0 C1071.0 790.6 1074.1 792.2 1076.1 793.4 C1078.1 794.6 1080.0 795.8 1081.9 797.2 C1083.8 798.5 1085.3 800.5 1087.3 801.7 C1089.3 802.8 1092.7 802.6 1094.1 804.0 C1095.5 805.3 1095.4 807.9 1096.0 809.8 C1096.6 811.7 1098.4 813.1 1097.8 815.3 C1097.1 817.6 1093.1 821.9 1092.2 823.2" transform="translate(-0.6,-0.8)"/><path d="M1094.0 804.0 C1095.0 804.2 1098.0 804.5 1100.0 804.9 C1102.0 805.3 1103.9 806.1 1105.9 806.5 C1107.9 806.9 1109.9 807.3 1111.9 807.5 C1113.9 807.8 1117.0 807.9 1118.0 808.0" transform="translate(-0.6,-0.8)"/><path d="M1145.9 664.0 C1145.5 665.2 1144.7 668.9 1143.7 671.3 C1142.6 673.7 1139.9 676.0 1139.4 678.1 C1139.0 680.3 1140.3 682.2 1140.9 684.1 C1141.5 686.1 1142.7 689.0 1143.0 690.0" transform="translate(-0.6,-0.8)"/><path d="M1136.3 765.7 C1135.7 766.9 1134.3 770.5 1132.7 772.6 C1131.0 774.7 1127.3 776.1 1126.4 778.1 C1125.4 780.0 1126.7 782.0 1127.0 784.0 C1127.3 786.0 1127.8 789.0 1128.0 790.0" transform="translate(-0.6,-0.8)"/><path d="M952.0 808.0 C953.0 808.8 955.6 811.9 957.8 812.8 C960.0 813.7 962.9 812.8 965.2 813.5 C967.5 814.1 969.3 816.3 971.6 816.7 C973.8 817.2 976.2 815.5 978.5 815.9 C980.8 816.4 983.0 819.6 985.2 819.5 C987.3 819.5 989.3 816.1 991.5 815.8 C993.7 815.5 996.2 817.7 998.5 817.9 C1000.7 818.0 1002.8 816.8 1005.1 816.6 C1007.3 816.3 1009.5 816.5 1011.8 816.5 C1014.0 816.4 1016.2 816.8 1018.5 816.3 C1020.7 815.7 1023.1 813.2 1025.3 813.2 C1027.5 813.2 1029.7 815.1 1031.9 816.2 C1034.0 817.3 1035.9 819.1 1038.1 820.0 C1040.3 820.8 1042.7 821.2 1044.9 821.3 C1047.2 821.4 1049.4 820.8 1051.6 820.6 C1053.8 820.3 1056.0 819.9 1058.2 819.8 C1060.5 819.7 1063.9 820.0 1065.0 820.0" transform="translate(-0.6,-0.8)"/><path d="M985.0 850.0 C986.1 850.2 989.3 850.7 991.4 851.3 C993.5 851.9 995.4 852.8 997.5 853.4 C999.6 854.1 1001.7 854.4 1003.8 855.0 C1005.9 855.6 1008.0 856.2 1010.1 856.8 C1012.1 857.5 1014.3 858.0 1016.3 858.7 C1018.4 859.5 1020.2 860.9 1022.3 861.5 C1024.5 862.1 1026.9 861.6 1029.0 862.3 C1031.1 862.9 1032.7 864.8 1034.9 865.4 C1037.1 866.0 1039.9 865.2 1042.2 865.9 C1044.5 866.5 1046.4 868.1 1048.5 869.1 C1050.7 870.0 1052.9 870.9 1055.2 871.5 C1057.4 872.1 1059.8 872.0 1062.0 872.9 C1064.2 873.8 1065.9 875.9 1068.1 876.7 C1070.3 877.6 1073.9 877.8 1075.0 878.0" transform="translate(-0.6,-0.8)"/><path d="M1090.0 860.0 C1090.5 861.3 1092.1 865.0 1092.9 867.5 C1093.8 870.0 1094.9 872.4 1095.0 874.9 C1095.1 877.3 1093.6 879.8 1093.5 882.3 C1093.5 884.8 1094.0 887.1 1094.6 889.7 C1095.2 892.3 1096.0 895.3 1097.2 897.9 C1098.5 900.5 1101.2 903.8 1102.0 905.0" transform="translate(-0.6,-0.8)"/><path d="M1040.0 598.0 C1040.7 599.1 1043.0 602.3 1043.9 604.6 C1044.9 606.9 1045.3 609.3 1045.5 611.9 C1045.7 614.5 1045.3 617.5 1045.0 620.1 C1044.8 622.7 1043.8 625.3 1043.9 627.6 C1044.0 629.9 1044.8 631.9 1045.5 634.0 C1046.2 636.0 1047.6 639.0 1048.0 640.0" transform="translate(-0.6,-0.8)"/><path d="M1110.0 620.0 C1110.6 621.4 1112.3 625.6 1113.5 628.3 C1114.7 630.9 1116.7 633.3 1117.1 635.7 C1117.5 638.2 1116.5 640.6 1115.9 643.0 C1115.4 645.4 1114.3 648.8 1114.0 650.0" transform="translate(-0.6,-0.8)"/><path d="M960.0 700.0 C960.1 701.2 960.2 704.8 960.8 707.0 C961.3 709.3 962.7 711.4 963.4 713.5 C964.2 715.6 965.2 717.7 965.2 719.8 C965.2 722.0 963.6 724.1 963.4 726.4 C963.2 728.7 964.4 731.2 964.1 733.5 C963.8 735.8 961.8 737.9 961.6 740.1 C961.4 742.4 962.2 744.8 962.8 747.0 C963.3 749.3 964.0 751.5 964.9 753.7 C965.7 755.8 967.5 758.9 968.0 760.0" transform="translate(-0.6,-0.8)"/></g></g>
</g></defs>
<rect width="1200" height="1200" fill="#fff"/>
<use href="#pS" transform="matrix(0.755 0 0 0.755 -553.7 246.39)"/>
<use href="#pM" transform="matrix(0.906 0 0 0.906 -330.81 87.51)"/>
<use href="#pL" transform="matrix(1.0 0 0 1.0 0.0 0.0)"/>
<clipPath id="c1"><ellipse cx="1044.6" cy="474.0" rx="71.3" ry="48.6" transform="rotate(24.4 1044.6 474.0)"/></clipPath><ellipse cx="1044.6" cy="474.0" rx="71.3" ry="48.6" transform="rotate(24.4 1044.6 474.0)" fill="#fff"/><line x1="937.83" y1="480.56" x2="1151.37" y2="468.24" stroke="#f49dd0" stroke-width="6.4" clip-path="url(#c1)"/><ellipse cx="1044.6" cy="474.0" rx="71.3" ry="48.6" transform="rotate(24.4 1044.6 474.0)" fill="none" stroke="#f49dd0" stroke-width="9.5"/>
<clipPath id="c2"><ellipse cx="614.0" cy="519.0" rx="64.883" ry="44.469" transform="rotate(24.4 614.0 519.0)"/></clipPath><ellipse cx="614.0" cy="519.0" rx="64.883" ry="44.469" transform="rotate(24.4 614.0 519.0)" fill="#fff"/><line x1="516.68" y1="516.79" x2="711.32" y2="517.81" stroke="#f49dd0" stroke-width="5.6" clip-path="url(#c2)"/><ellipse cx="614.0" cy="519.0" rx="64.883" ry="44.469" transform="rotate(24.4 614.0 519.0)" fill="none" stroke="#f49dd0" stroke-width="8.8"/>
<clipPath id="c3"><ellipse cx="232.7" cy="601.8" rx="55.9705" ry="38.88" transform="rotate(24.4 232.7 601.8)"/></clipPath><ellipse cx="232.7" cy="601.8" rx="55.9705" ry="38.88" transform="rotate(24.4 232.7 601.8)" fill="#fff"/><line x1="148.93" y1="605.86" x2="316.47" y2="594.74" stroke="#f49dd0" stroke-width="5.2" clip-path="url(#c3)"/><ellipse cx="232.7" cy="601.8" rx="55.9705" ry="38.88" transform="rotate(24.4 232.7 601.8)" fill="none" stroke="#f49dd0" stroke-width="8.0"/>
<g transform="translate(864.6,886.3) scale(1.146,0.907)"><clipPath id="c4"><circle r="92.4"/></clipPath><circle r="92.4" fill="#fff"/><line x1="-95.58" y1="72.55" x2="95.58" y2="-72.55" stroke="#f49dd0" stroke-width="15.2" clip-path="url(#c4)"/><circle r="92.4" fill="none" stroke="#f49dd0" stroke-width="15.2"/></g>
<g transform="translate(452.5,897.0) scale(1.095,0.87)"><clipPath id="c5"><circle r="92.4"/></clipPath><circle r="92.4" fill="#fff"/><line x1="-95.33" y1="72.89" x2="95.33" y2="-72.89" stroke="#f49dd0" stroke-width="15.2" clip-path="url(#c5)"/><circle r="92.4" fill="none" stroke="#f49dd0" stroke-width="15.2"/></g>
<g transform="translate(94.6,912.0) scale(0.863,0.713)"><clipPath id="c6"><circle r="92.75"/></clipPath><circle r="92.75" fill="#fff"/><line x1="-93.65" y1="75.03" x2="93.65" y2="-75.03" stroke="#f49dd0" stroke-width="14.5" clip-path="url(#c6)"/><circle r="92.75" fill="none" stroke="#f49dd0" stroke-width="14.5"/></g>
<line x1="180.70" y1="611.74" x2="282.00" y2="612.36" stroke="#000" stroke-width="3.0"/>
<polygon points="174.70,611.70 186.66,618.62 186.74,604.92" fill="#000"/>
<polygon points="288.00,612.40 275.96,619.18 276.04,605.48" fill="#000"/>
<line x1="159.75" y1="733.09" x2="318.30" y2="735.41" stroke="#000" stroke-width="3.0"/>
<polygon points="153.75,733.00 165.65,740.03 165.85,726.33" fill="#000"/>
<polygon points="324.30,735.50 312.20,742.17 312.40,728.47" fill="#000"/>
<line x1="11.80" y1="950.05" x2="308.50" y2="952.75" stroke="#000" stroke-width="3.0"/>
<polygon points="5.80,950.00 17.74,956.96 17.86,943.26" fill="#000"/>
<polygon points="314.50,952.80 302.44,959.54 302.56,945.84" fill="#000"/>
<line x1="146.31" y1="565.50" x2="146.69" y2="858.20" stroke="#000" stroke-width="3.0"/>
<polygon points="146.30,559.50 139.47,571.51 153.17,571.49" fill="#000"/>
<polygon points="146.70,864.20 139.83,852.21 153.53,852.19" fill="#000"/>
<line x1="333.54" y1="559.40" x2="328.56" y2="1023.50" stroke="#000" stroke-width="3.0"/>
<polygon points="333.60,553.40 326.62,565.33 340.32,565.47" fill="#000"/>
<polygon points="328.50,1029.50 321.78,1017.43 335.48,1017.57" fill="#000"/>
<line x1="552.25" y1="533.02" x2="673.35" y2="533.48" stroke="#000" stroke-width="3.0"/>
<polygon points="545.60,533.00 558.87,540.55 558.93,525.55" fill="#000"/>
<polygon points="680.00,533.50 666.67,540.95 666.73,525.95" fill="#000"/>
<line x1="524.90" y1="653.99" x2="713.85" y2="656.61" stroke="#000" stroke-width="3.0"/>
<polygon points="518.25,653.90 531.44,661.58 531.65,646.58" fill="#000"/>
<polygon points="720.50,656.70 707.10,664.02 707.31,649.02" fill="#000"/>
<line x1="350.65" y1="938.62" x2="705.35" y2="939.48" stroke="#000" stroke-width="3.0"/>
<polygon points="344.00,938.60 357.28,946.13 357.32,931.13" fill="#000"/>
<polygon points="712.00,939.50 698.68,946.97 698.72,931.97" fill="#000"/>
<line x1="515.68" y1="474.15" x2="512.07" y2="829.35" stroke="#000" stroke-width="3.0"/>
<polygon points="515.75,467.50 508.12,480.72 523.11,480.88" fill="#000"/>
<polygon points="512.00,836.00 504.64,822.62 519.63,822.78" fill="#000"/>
<line x1="728.71" y1="470.40" x2="725.54" y2="1018.35" stroke="#000" stroke-width="3.0"/>
<polygon points="728.75,463.75 721.17,477.01 736.17,477.09" fill="#000"/>
<polygon points="725.50,1025.00 718.08,1011.66 733.08,1011.74" fill="#000"/>
<line x1="974.50" y1="489.70" x2="1106.90" y2="489.70" stroke="#000" stroke-width="3.0"/>
<polygon points="967.00,489.70 982.00,497.70 982.00,481.70" fill="#000"/>
<polygon points="1114.40,489.70 1099.40,497.70 1099.40,481.70" fill="#000"/>
<line x1="943.90" y1="616.13" x2="1152.10" y2="619.87" stroke="#000" stroke-width="3.0"/>
<polygon points="936.40,616.00 951.25,624.27 951.54,608.27" fill="#000"/>
<polygon points="1159.60,620.00 1144.46,627.73 1144.75,611.73" fill="#000"/>
<line x1="752.80" y1="938.82" x2="1141.50" y2="939.98" stroke="#000" stroke-width="3.0"/>
<polygon points="745.30,938.80 760.28,946.84 760.32,930.84" fill="#000"/>
<polygon points="1149.00,940.00 1133.98,947.96 1134.02,931.96" fill="#000"/>
<line x1="934.91" y1="427.00" x2="930.39" y2="816.50" stroke="#000" stroke-width="3.0"/>
<polygon points="935.00,419.50 926.83,434.41 942.83,434.59" fill="#000"/>
<polygon points="930.30,824.00 922.47,808.91 938.47,809.09" fill="#000"/>
<line x1="1165.42" y1="420.50" x2="1158.78" y2="1028.50" stroke="#000" stroke-width="3.0"/>
<polygon points="1165.50,413.00 1157.34,427.91 1173.34,428.09" fill="#000"/>
<polygon points="1158.70,1036.00 1150.86,1020.91 1166.86,1021.09" fill="#000"/>
<g fill="#000">
<g role="img" aria-label="M"><title>M</title><polygon points="549.00,146.67 553.00,85.00 566.67,85.00 580.33,128.67 594.00,85.00 607.00,85.00 611.00,146.67 600.00,146.67 597.33,102.67 583.67,146.00 575.00,146.00 562.67,103.67 560.00,146.67" fill="#000"/></g>
<g role="img" aria-label="L"><title>L</title><polygon points="987.00,84.20 998.10,84.20 998.10,137.50 1021.20,137.50 1021.20,145.50 987.00,145.50" fill="#000"/></g>
<g role="img" aria-label="S"><title>S</title><path d="M221.6 95.0 C220.9 94.7 218.8 93.6 217.0 93.1 C215.2 92.6 212.8 92.1 210.8 92.1 C208.9 92.1 206.8 92.4 205.3 93.1 C203.8 93.8 202.3 94.9 201.6 96.2 C200.9 97.5 200.7 99.3 200.9 100.8 C201.0 102.3 201.5 103.8 202.5 105.1 C203.5 106.5 205.0 107.7 206.8 108.8 C208.7 110.0 211.4 111.1 213.6 112.2 C215.8 113.4 218.3 114.4 220.1 115.9 C221.9 117.4 223.5 119.3 224.5 121.2 C225.6 123.1 226.1 125.3 226.4 127.4 C226.7 129.4 226.6 131.5 226.1 133.5 C225.7 135.6 224.8 137.9 223.5 139.7 C222.2 141.4 220.6 142.9 218.6 144.0 C216.5 145.2 213.7 146.2 211.2 146.6 C208.6 147.0 205.9 146.8 203.4 146.6 C200.9 146.4 198.5 145.8 196.2 145.2 C193.8 144.7 190.4 143.8 189.3 143.5 L191.72 135.68 C192.5 136.0 194.5 137.1 196.2 137.7 C197.8 138.3 199.9 139.0 201.6 139.3 C203.3 139.5 204.9 139.4 206.5 139.1 C208.1 138.7 209.9 138.1 211.2 137.2 C212.4 136.3 213.5 134.9 214.1 133.5 C214.7 132.2 214.8 130.6 214.5 129.2 C214.3 127.8 213.7 126.2 212.7 124.9 C211.7 123.5 210.3 122.4 208.5 121.2 C206.7 120.0 204.0 119.0 201.9 117.8 C199.8 116.6 197.4 115.4 195.7 113.9 C194.0 112.4 192.6 110.7 191.6 109.0 C190.6 107.2 190.2 105.4 190.0 103.3 C189.8 101.2 189.9 98.7 190.5 96.5 C191.1 94.3 192.2 92.1 193.7 90.3 C195.2 88.6 197.2 87.0 199.2 86.0 C201.3 85.0 203.5 84.5 205.9 84.2 C208.4 83.8 211.7 83.9 213.9 84.0 C216.2 84.2 217.8 84.7 219.5 85.3 C221.1 85.9 223.1 87.2 223.8 87.6 Z" fill="#000"/></g>
<text transform="translate(134.25,188.50) rotate(0.0) translate(-0.17,0) scale(0.9274,1)" font-size="42.15" font-weight="normal" fill="#000" stroke="#000" stroke-width="0.9">W=705g</text>
<text transform="translate(126.00,233.50) rotate(0.0) translate(-0.17,0) scale(0.9637,1)" font-size="40.33" font-weight="normal" fill="#000" stroke="#000" stroke-width="0.9">W=1.55lb</text>
<text transform="translate(496.20,189.20) rotate(0.0) translate(-0.17,0) scale(0.8995,1)" font-size="43.61" font-weight="normal" fill="#000" stroke="#000" stroke-width="0.9">W=1140g</text>
<text transform="translate(497.50,234.20) rotate(0.0) translate(-0.17,0) scale(0.8953,1)" font-size="43.61" font-weight="normal" fill="#000" stroke="#000" stroke-width="0.9">W=2.51lb</text>
<text transform="translate(912.50,188.75) rotate(0.0) translate(-0.17,0) scale(0.9285,1)" font-size="41.79" font-weight="normal" fill="#000" stroke="#000" stroke-width="0.9">W=1700g</text>
<text transform="translate(913.75,233.75) rotate(0.0) translate(-0.17,0) scale(0.9245,1)" font-size="41.79" font-weight="normal" fill="#000" stroke="#000" stroke-width="0.9">W=3.74lb</text>
<text transform="translate(156.90,600.00) rotate(0.8) translate(-0.60,0) scale(1.0481,1)" font-size="24.78" font-weight="normal" fill="#000" stroke="#000" stroke-width="0.4">4.2cm/1.65in</text>
<text transform="translate(174.00,727.00) rotate(0.8) translate(-1.40,0) scale(1.0177,1)" font-size="26.85" font-weight="normal" fill="#000" stroke="#000" stroke-width="0.4">7cm/2.75in</text>
<text transform="translate(79.75,942.25) rotate(0.8) translate(-2.03,0) scale(0.9759,1)" font-size="27.28" font-weight="normal" fill="#000" stroke="#000" stroke-width="0.4">12.5cm/4.92in</text>
<text transform="translate(546.25,523.10) rotate(0.8) translate(-1.09,0) scale(1.0891,1)" font-size="25.06" font-weight="normal" fill="#000" stroke="#000" stroke-width="0.4">5cm/1.96in</text>
<text transform="translate(553.60,648.40) rotate(0.8) translate(-1.18,0) scale(1.0386,1)" font-size="26.21" font-weight="normal" fill="#000" stroke="#000" stroke-width="0.4">8cm/3.14in</text>
<text transform="translate(452.70,930.90) rotate(0.8) translate(-2.04,0) scale(0.9833,1)" font-size="27.21" font-weight="normal" fill="#000" stroke="#000" stroke-width="0.4">14.5cm/5.70in</text>
<text transform="translate(962.10,476.90) rotate(0.8) translate(-1.08,0) scale(1.0283,1)" font-size="26.35" font-weight="normal" fill="#000" stroke="#000" stroke-width="0.4">5.8cm/2.28in</text>
<text transform="translate(983.00,611.00) rotate(0.8) translate(-1.27,0) scale(1.0469,1)" font-size="25.78" font-weight="normal" fill="#000" stroke="#000" stroke-width="0.4">9cm/3.54in</text>
<text transform="translate(875.75,929.70) rotate(0.8) translate(-2.05,0) scale(1.0195,1)" font-size="26.42" font-weight="normal" fill="#000" stroke="#000" stroke-width="0.4">17cm/6.69in</text>
<text transform="translate(123.00,641.00) rotate(90.0) translate(-2.05,0) scale(0.9518,1)" font-size="28.21" stroke="#000" stroke-width="0.4">13cm/5.11in</text>
<text transform="translate(334.70,696.70) rotate(90.0) translate(-2.04,0) scale(0.8843,1)" font-size="30.22" stroke="#000" stroke-width="0.4">18.5cm/7.28in</text>
<text transform="translate(489.00,591.00) rotate(90.0) translate(-2.05,0) scale(0.9259,1)" font-size="29.00" stroke="#000" stroke-width="0.4">15cm/5.90in</text>
<text transform="translate(731.50,656.70) rotate(90.0) translate(-1.35,0) scale(0.8690,1)" font-size="30.79" stroke="#000" stroke-width="0.4">21.5cm/8.46in</text>
<text transform="translate(906.70,545.00) rotate(90.0) translate(-2.02,0) scale(0.8883,1)" font-size="29.79" stroke="#000" stroke-width="0.4">17.5cm/6.88in</text>
<text transform="translate(1165.80,641.70) rotate(90.0) translate(-1.36,0) scale(0.8693,1)" font-size="31.08" stroke="#000" stroke-width="0.4">24.5cm/9.64in</text>
</g>
</svg>
</body></html>
